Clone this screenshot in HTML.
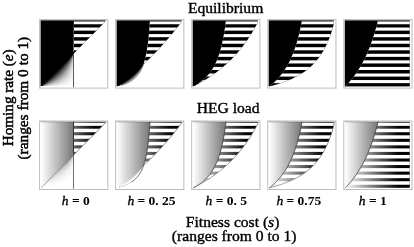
<!DOCTYPE html>
<html><head><meta charset="utf-8"><title>HEG equilibrium and load</title>
<style>html,body{margin:0;padding:0;background:#fff}svg{display:block;filter:blur(0.3px)}body{font-family:"Liberation Serif",serif}</style></head>
<body>
<svg width="414" height="247" viewBox="0 0 414 247">
<rect width="414" height="247" fill="#fff"/>
<defs><clipPath id="csp00"><polygon points="73.95,16.22 74.22,16.22 74.5,16.22 74.77,16.22 75.05,16.22 75.32,16.22 75.59,16.22 75.87,16.22 76.14,16.22 76.41,16.22 76.69,16.22 76.96,16.22 77.24,16.22 77.51,16.22 77.78,16.22 78.06,16.22 78.33,16.22 78.6,16.22 78.88,16.22 79.15,16.22 79.43,16.22 79.7,16.22 79.97,16.22 80.25,16.22 80.52,16.22 80.79,16.22 81.07,16.22 81.34,16.22 81.62,16.22 81.89,16.22 82.16,16.22 82.44,16.22 82.71,16.22 82.98,16.22 83.26,16.22 83.53,16.22 83.81,16.22 84.08,16.22 84.35,16.22 84.63,16.22 84.9,16.22 85.17,16.22 85.45,16.22 85.72,16.22 86,16.22 86.27,16.22 86.54,16.22 86.82,16.22 87.09,16.22 87.36,16.22 87.64,16.22 87.91,16.22 88.19,16.22 88.46,16.22 88.73,16.22 89.01,16.22 89.28,16.22 89.55,16.22 89.83,16.22 90.1,16.22 90.38,16.22 90.65,16.22 90.92,16.22 91.2,16.22 91.47,16.22 91.74,16.22 92.02,16.22 92.29,16.22 92.57,16.22 92.84,16.22 93.11,16.22 93.39,16.22 93.66,16.22 93.93,16.22 94.21,16.22 94.48,16.22 94.76,16.22 95.03,16.22 95.3,16.22 95.58,16.22 95.85,16.22 96.12,16.22 96.4,16.22 96.67,16.22 96.95,16.22 97.22,16.22 97.49,16.22 97.77,16.22 98.04,16.22 98.31,16.22 98.59,16.22 98.86,16.22 99.14,16.22 99.41,16.22 99.68,16.22 99.96,16.22 100.23,16.22 100.5,16.22 100.78,16.22 101.05,16.22 101.33,16.22 101.6,16.22 101.87,16.22 102.15,16.22 102.42,16.22 102.69,16.22 102.97,16.22 103.24,16.22 103.52,16.22 103.79,16.22 104.06,16.22 104.34,16.22 104.61,16.22 104.88,16.22 105.16,16.22 105.43,16.22 105.71,16.22 105.98,16.22 106.25,16.22 106.53,16.22 106.8,16.22 106.8,20.2 106.53,20.48 106.25,20.75 105.98,21.03 105.71,21.3 105.43,21.58 105.16,21.86 104.88,22.13 104.61,22.41 104.34,22.69 104.06,22.96 103.79,23.24 103.52,23.52 103.24,23.79 102.97,24.07 102.69,24.34 102.42,24.62 102.15,24.9 101.87,25.17 101.6,25.45 101.33,25.72 101.05,26 100.78,26.28 100.5,26.55 100.23,26.83 99.96,27.11 99.68,27.38 99.41,27.66 99.14,27.94 98.86,28.21 98.59,28.49 98.31,28.76 98.04,29.04 97.77,29.32 97.49,29.59 97.22,29.87 96.95,30.15 96.67,30.42 96.4,30.7 96.12,30.97 95.85,31.25 95.58,31.53 95.3,31.8 95.03,32.08 94.76,32.36 94.48,32.63 94.21,32.91 93.93,33.18 93.66,33.46 93.39,33.74 93.11,34.01 92.84,34.29 92.57,34.57 92.29,34.84 92.02,35.12 91.74,35.39 91.47,35.67 91.2,35.95 90.92,36.22 90.65,36.5 90.38,36.78 90.1,37.05 89.83,37.33 89.55,37.6 89.28,37.88 89.01,38.16 88.73,38.43 88.46,38.71 88.19,38.98 87.91,39.26 87.64,39.54 87.36,39.81 87.09,40.09 86.82,40.37 86.54,40.64 86.27,40.92 86,41.2 85.72,41.47 85.45,41.75 85.17,42.02 84.9,42.3 84.63,42.58 84.35,42.85 84.08,43.13 83.81,43.41 83.53,43.68 83.26,43.96 82.98,44.23 82.71,44.51 82.44,44.79 82.16,45.06 81.89,45.34 81.62,45.62 81.34,45.89 81.07,46.17 80.79,46.44 80.52,46.72 80.25,47 79.97,47.27 79.7,47.55 79.43,47.82 79.15,48.1 78.88,48.38 78.6,48.65 78.33,48.93 78.06,49.21 77.78,49.48 77.51,49.76 77.24,50.03 76.96,50.31 76.69,50.59 76.41,50.86 76.14,51.14 75.87,51.42 75.59,51.69 75.32,51.97 75.05,52.24 74.77,52.52 74.5,52.8 74.22,53.07 73.95,53.35"/></clipPath><clipPath id="ccp00"><rect x="40.6" y="20.55" width="65" height="65.95"/></clipPath><clipPath id="cpp00"><polygon points="41.1,84.51 41.37,84.23 41.65,83.96 41.92,83.68 42.2,83.41 42.47,83.13 42.74,82.85 43.02,82.58 43.29,82.3 43.56,82.02 43.84,81.75 44.11,81.47 44.39,81.2 44.66,80.92 44.93,80.64 45.21,80.37 45.48,80.09 45.75,79.81 46.03,79.54 46.3,79.26 46.58,78.99 46.85,78.71 47.12,78.43 47.4,78.16 47.67,77.88 47.94,77.6 48.22,77.33 48.49,77.05 48.77,76.78 49.04,76.5 49.31,76.22 49.59,75.95 49.86,75.67 50.13,75.39 50.41,75.12 50.68,74.84 50.96,74.57 51.23,74.29 51.5,74.01 51.78,73.74 52.05,73.46 52.32,73.18 52.6,72.91 52.87,72.63 53.15,72.36 53.42,72.08 53.69,71.8 53.97,71.53 54.24,71.25 54.51,70.97 54.79,70.7 55.06,70.42 55.34,70.15 55.61,69.87 55.88,69.59 56.16,69.32 56.43,69.04 56.7,68.76 56.98,68.49 57.25,68.21 57.53,67.94 57.8,67.66 58.07,67.38 58.35,67.11 58.62,66.83 58.89,66.55 59.17,66.28 59.44,66 59.72,65.73 59.99,65.45 60.26,65.17 60.54,64.9 60.81,64.62 61.08,64.34 61.36,64.07 61.63,63.79 61.91,63.52 62.18,63.24 62.45,62.96 62.73,62.69 63,62.41 63.27,62.13 63.55,61.86 63.82,61.58 64.09,61.31 64.37,61.03 64.64,60.75 64.92,60.48 65.19,60.2 65.46,59.92 65.74,59.65 66.01,59.37 66.29,59.1 66.56,58.82 66.83,58.54 67.11,58.27 67.38,57.99 67.65,57.71 67.93,57.44 68.2,57.16 68.48,56.89 68.75,56.61 69.02,56.33 69.3,56.06 69.57,55.78 69.84,55.5 70.12,55.23 70.39,54.95 70.67,54.68 70.94,54.4 71.21,54.12 71.49,53.85 71.76,53.57 72.03,53.29 72.31,53.02 72.58,52.74 72.86,52.47 73.13,52.19 73.4,51.91 73.68,51.64 73.95,51.36 73.95,90.48 73.68,90.48 73.4,90.48 73.13,90.48 72.86,90.48 72.58,90.48 72.31,90.48 72.03,90.48 71.76,90.48 71.49,90.48 71.21,90.48 70.94,90.48 70.67,90.48 70.39,90.48 70.12,90.48 69.84,90.48 69.57,90.48 69.3,90.48 69.02,90.48 68.75,90.48 68.48,90.48 68.2,90.48 67.93,90.48 67.65,90.48 67.38,90.48 67.11,90.48 66.83,90.48 66.56,90.48 66.29,90.48 66.01,90.48 65.74,90.48 65.46,90.48 65.19,90.48 64.92,90.48 64.64,90.48 64.37,90.48 64.09,90.48 63.82,90.48 63.55,90.48 63.27,90.48 63,90.48 62.73,90.48 62.45,90.48 62.18,90.48 61.91,90.48 61.63,90.48 61.36,90.48 61.08,90.48 60.81,90.48 60.54,90.48 60.26,90.48 59.99,90.48 59.72,90.48 59.44,90.48 59.17,90.48 58.89,90.48 58.62,90.48 58.35,90.48 58.07,90.48 57.8,90.48 57.53,90.48 57.25,90.48 56.98,90.48 56.7,90.48 56.43,90.48 56.16,90.48 55.88,90.48 55.61,90.48 55.34,90.48 55.06,90.48 54.79,90.48 54.51,90.48 54.24,90.48 53.97,90.48 53.69,90.48 53.42,90.48 53.15,90.48 52.87,90.48 52.6,90.48 52.32,90.48 52.05,90.48 51.78,90.48 51.5,90.48 51.23,90.48 50.96,90.48 50.68,90.48 50.41,90.48 50.13,90.48 49.86,90.48 49.59,90.48 49.31,90.48 49.04,90.48 48.77,90.48 48.49,90.48 48.22,90.48 47.94,90.48 47.67,90.48 47.4,90.48 47.12,90.48 46.85,90.48 46.58,90.48 46.3,90.48 46.03,90.48 45.75,90.48 45.48,90.48 45.21,90.48 44.93,90.48 44.66,90.48 44.39,90.48 44.11,90.48 43.84,90.48 43.56,90.48 43.29,90.48 43.02,90.48 42.74,90.48 42.47,90.48 42.2,90.48 41.92,90.48 41.65,90.48 41.37,90.48 41.1,90.48"/></clipPath></defs>
<rect x="39.6" y="19.6" width="68.2" height="68.5" fill="#fff" stroke="#bcbcbc" stroke-width="1"/>
<g clip-path="url(#ccp00)">
<g clip-path="url(#cpp00)" shape-rendering="crispEdges"><rect x="71" y="52" width="4" height="1" fill="#000000"/><rect x="70" y="53" width="4" height="1" fill="#000000"/><rect x="74" y="53" width="1" height="1" fill="#ececec"/><rect x="69" y="54" width="4" height="1" fill="#000000"/><rect x="73" y="54" width="1" height="1" fill="#797979"/><rect x="68" y="55" width="4" height="1" fill="#000000"/><rect x="72" y="55" width="1" height="1" fill="#333333"/><rect x="73" y="55" width="1" height="1" fill="#b9b9b9"/><rect x="67" y="56" width="4" height="1" fill="#000000"/><rect x="71" y="56" width="1" height="1" fill="#1a1a1a"/><rect x="72" y="56" width="1" height="1" fill="#6c6c6c"/><rect x="73" y="56" width="1" height="1" fill="#cccccc"/><rect x="66" y="57" width="4" height="1" fill="#000000"/><rect x="70" y="57" width="1" height="1" fill="#131313"/><rect x="71" y="57" width="1" height="1" fill="#4c4c4c"/><rect x="72" y="57" width="1" height="1" fill="#8c8c8c"/><rect x="73" y="57" width="1" height="1" fill="#d9d9d9"/><rect x="65" y="58" width="4" height="1" fill="#000000"/><rect x="69" y="58" width="1" height="1" fill="#0d0d0d"/><rect x="70" y="58" width="1" height="1" fill="#393939"/><rect x="71" y="58" width="1" height="1" fill="#6c6c6c"/><rect x="72" y="58" width="1" height="1" fill="#a6a6a6"/><rect x="73" y="58" width="1" height="1" fill="#e6e6e6"/><rect x="64" y="59" width="4" height="1" fill="#000000"/><rect x="68" y="59" width="1" height="1" fill="#0d0d0d"/><rect x="69" y="59" width="1" height="1" fill="#2d2d2d"/><rect x="70" y="59" width="1" height="1" fill="#595959"/><rect x="71" y="59" width="1" height="1" fill="#868686"/><rect x="72" y="59" width="1" height="1" fill="#b2b2b2"/><rect x="73" y="59" width="1" height="1" fill="#e6e6e6"/><rect x="63" y="60" width="4" height="1" fill="#000000"/><rect x="67" y="60" width="1" height="1" fill="#060606"/><rect x="68" y="60" width="1" height="1" fill="#262626"/><rect x="69" y="60" width="1" height="1" fill="#464646"/><rect x="70" y="60" width="1" height="1" fill="#6c6c6c"/><rect x="71" y="60" width="1" height="1" fill="#999999"/><rect x="72" y="60" width="1" height="1" fill="#bfbfbf"/><rect x="73" y="60" width="1" height="1" fill="#ececec"/><rect x="62" y="61" width="4" height="1" fill="#000000"/><rect x="66" y="61" width="1" height="1" fill="#060606"/><rect x="67" y="61" width="1" height="1" fill="#202020"/><rect x="68" y="61" width="1" height="1" fill="#404040"/><rect x="69" y="61" width="1" height="1" fill="#606060"/><rect x="70" y="61" width="1" height="1" fill="#808080"/><rect x="71" y="61" width="1" height="1" fill="#a6a6a6"/><rect x="72" y="61" width="1" height="1" fill="#cccccc"/><rect x="73" y="61" width="1" height="1" fill="#ececec"/><rect x="61" y="62" width="4" height="1" fill="#000000"/><rect x="65" y="62" width="1" height="1" fill="#060606"/><rect x="66" y="62" width="1" height="1" fill="#1a1a1a"/><rect x="67" y="62" width="1" height="1" fill="#393939"/><rect x="68" y="62" width="1" height="1" fill="#535353"/><rect x="69" y="62" width="1" height="1" fill="#737373"/><rect x="70" y="62" width="1" height="1" fill="#939393"/><rect x="71" y="62" width="1" height="1" fill="#b2b2b2"/><rect x="72" y="62" width="1" height="1" fill="#d2d2d2"/><rect x="73" y="62" width="1" height="1" fill="#f2f2f2"/><rect x="60" y="63" width="4" height="1" fill="#000000"/><rect x="64" y="63" width="1" height="1" fill="#060606"/><rect x="65" y="63" width="1" height="1" fill="#1a1a1a"/><rect x="66" y="63" width="1" height="1" fill="#333333"/><rect x="67" y="63" width="1" height="1" fill="#4c4c4c"/><rect x="68" y="63" width="1" height="1" fill="#666666"/><rect x="69" y="63" width="1" height="1" fill="#868686"/><rect x="70" y="63" width="1" height="1" fill="#9f9f9f"/><rect x="71" y="63" width="1" height="1" fill="#bfbfbf"/><rect x="72" y="63" width="1" height="1" fill="#d9d9d9"/><rect x="73" y="63" width="1" height="1" fill="#f2f2f2"/><rect x="59" y="64" width="4" height="1" fill="#000000"/><rect x="63" y="64" width="1" height="1" fill="#060606"/><rect x="64" y="64" width="1" height="1" fill="#1a1a1a"/><rect x="65" y="64" width="1" height="1" fill="#2d2d2d"/><rect x="66" y="64" width="1" height="1" fill="#464646"/><rect x="67" y="64" width="1" height="1" fill="#606060"/><rect x="68" y="64" width="1" height="1" fill="#797979"/><rect x="69" y="64" width="1" height="1" fill="#939393"/><rect x="70" y="64" width="1" height="1" fill="#acacac"/><rect x="71" y="64" width="1" height="1" fill="#c6c6c6"/><rect x="72" y="64" width="1" height="1" fill="#dfdfdf"/><rect x="73" y="64" width="1" height="1" fill="#f2f2f2"/><rect x="58" y="65" width="4" height="1" fill="#000000"/><rect x="62" y="65" width="1" height="1" fill="#060606"/><rect x="63" y="65" width="1" height="1" fill="#131313"/><rect x="64" y="65" width="1" height="1" fill="#2d2d2d"/><rect x="65" y="65" width="1" height="1" fill="#404040"/><rect x="66" y="65" width="1" height="1" fill="#595959"/><rect x="67" y="65" width="1" height="1" fill="#737373"/><rect x="68" y="65" width="1" height="1" fill="#868686"/><rect x="69" y="65" width="1" height="1" fill="#9f9f9f"/><rect x="70" y="65" width="1" height="1" fill="#b2b2b2"/><rect x="71" y="65" width="1" height="1" fill="#cccccc"/><rect x="72" y="65" width="1" height="1" fill="#dfdfdf"/><rect x="73" y="65" width="1" height="1" fill="#f9f9f9"/><rect x="57" y="66" width="4" height="1" fill="#000000"/><rect x="61" y="66" width="1" height="1" fill="#060606"/><rect x="62" y="66" width="1" height="1" fill="#131313"/><rect x="63" y="66" width="1" height="1" fill="#262626"/><rect x="64" y="66" width="1" height="1" fill="#404040"/><rect x="65" y="66" width="1" height="1" fill="#535353"/><rect x="66" y="66" width="1" height="1" fill="#666666"/><rect x="67" y="66" width="1" height="1" fill="#808080"/><rect x="68" y="66" width="1" height="1" fill="#939393"/><rect x="69" y="66" width="1" height="1" fill="#acacac"/><rect x="70" y="66" width="1" height="1" fill="#bfbfbf"/><rect x="71" y="66" width="1" height="1" fill="#d2d2d2"/><rect x="72" y="66" width="1" height="1" fill="#e6e6e6"/><rect x="73" y="66" width="1" height="1" fill="#f9f9f9"/><rect x="56" y="67" width="4" height="1" fill="#000000"/><rect x="60" y="67" width="1" height="1" fill="#060606"/><rect x="61" y="67" width="1" height="1" fill="#131313"/><rect x="62" y="67" width="1" height="1" fill="#262626"/><rect x="63" y="67" width="1" height="1" fill="#393939"/><rect x="64" y="67" width="1" height="1" fill="#4c4c4c"/><rect x="65" y="67" width="1" height="1" fill="#666666"/><rect x="66" y="67" width="1" height="1" fill="#797979"/><rect x="67" y="67" width="1" height="1" fill="#8c8c8c"/><rect x="68" y="67" width="1" height="1" fill="#9f9f9f"/><rect x="69" y="67" width="1" height="1" fill="#b2b2b2"/><rect x="70" y="67" width="1" height="1" fill="#c6c6c6"/><rect x="71" y="67" width="1" height="1" fill="#d9d9d9"/><rect x="72" y="67" width="1" height="1" fill="#e6e6e6"/><rect x="73" y="67" width="1" height="1" fill="#f9f9f9"/><rect x="55" y="68" width="4" height="1" fill="#000000"/><rect x="59" y="68" width="1" height="1" fill="#060606"/><rect x="60" y="68" width="1" height="1" fill="#131313"/><rect x="61" y="68" width="1" height="1" fill="#262626"/><rect x="62" y="68" width="1" height="1" fill="#393939"/><rect x="63" y="68" width="1" height="1" fill="#4c4c4c"/><rect x="64" y="68" width="1" height="1" fill="#606060"/><rect x="65" y="68" width="1" height="1" fill="#737373"/><rect x="66" y="68" width="1" height="1" fill="#868686"/><rect x="67" y="68" width="1" height="1" fill="#999999"/><rect x="68" y="68" width="1" height="1" fill="#acacac"/><rect x="69" y="68" width="1" height="1" fill="#b9b9b9"/><rect x="70" y="68" width="1" height="1" fill="#cccccc"/><rect x="71" y="68" width="1" height="1" fill="#d9d9d9"/><rect x="72" y="68" width="1" height="1" fill="#ececec"/><rect x="73" y="68" width="1" height="1" fill="#f9f9f9"/><rect x="54" y="69" width="4" height="1" fill="#000000"/><rect x="58" y="69" width="1" height="1" fill="#060606"/><rect x="59" y="69" width="1" height="1" fill="#131313"/><rect x="60" y="69" width="1" height="1" fill="#262626"/><rect x="61" y="69" width="1" height="1" fill="#393939"/><rect x="62" y="69" width="1" height="1" fill="#4c4c4c"/><rect x="63" y="69" width="1" height="1" fill="#606060"/><rect x="64" y="69" width="1" height="1" fill="#6c6c6c"/><rect x="65" y="69" width="1" height="1" fill="#808080"/><rect x="66" y="69" width="1" height="1" fill="#939393"/><rect x="67" y="69" width="1" height="1" fill="#a6a6a6"/><rect x="68" y="69" width="1" height="1" fill="#b2b2b2"/><rect x="69" y="69" width="1" height="1" fill="#c6c6c6"/><rect x="70" y="69" width="1" height="1" fill="#d2d2d2"/><rect x="71" y="69" width="1" height="1" fill="#dfdfdf"/><rect x="72" y="69" width="1" height="1" fill="#ececec"/><rect x="73" y="69" width="1" height="1" fill="#f9f9f9"/><rect x="53" y="70" width="4" height="1" fill="#000000"/><rect x="57" y="70" width="1" height="1" fill="#060606"/><rect x="58" y="70" width="1" height="1" fill="#131313"/><rect x="59" y="70" width="1" height="1" fill="#262626"/><rect x="60" y="70" width="1" height="1" fill="#333333"/><rect x="61" y="70" width="1" height="1" fill="#464646"/><rect x="62" y="70" width="1" height="1" fill="#595959"/><rect x="63" y="70" width="1" height="1" fill="#6c6c6c"/><rect x="64" y="70" width="1" height="1" fill="#808080"/><rect x="65" y="70" width="1" height="1" fill="#8c8c8c"/><rect x="66" y="70" width="1" height="1" fill="#9f9f9f"/><rect x="67" y="70" width="1" height="1" fill="#acacac"/><rect x="68" y="70" width="1" height="1" fill="#b9b9b9"/><rect x="69" y="70" width="1" height="1" fill="#cccccc"/><rect x="70" y="70" width="1" height="1" fill="#d9d9d9"/><rect x="71" y="70" width="1" height="1" fill="#e6e6e6"/><rect x="72" y="70" width="1" height="1" fill="#ececec"/><rect x="73" y="70" width="1" height="1" fill="#f9f9f9"/><rect x="52" y="71" width="4" height="1" fill="#000000"/><rect x="56" y="71" width="1" height="1" fill="#060606"/><rect x="57" y="71" width="1" height="1" fill="#131313"/><rect x="58" y="71" width="1" height="1" fill="#202020"/><rect x="59" y="71" width="1" height="1" fill="#333333"/><rect x="60" y="71" width="1" height="1" fill="#464646"/><rect x="61" y="71" width="1" height="1" fill="#595959"/><rect x="62" y="71" width="1" height="1" fill="#6c6c6c"/><rect x="63" y="71" width="1" height="1" fill="#797979"/><rect x="64" y="71" width="1" height="1" fill="#8c8c8c"/><rect x="65" y="71" width="1" height="1" fill="#999999"/><rect x="66" y="71" width="1" height="1" fill="#a6a6a6"/><rect x="67" y="71" width="1" height="1" fill="#b9b9b9"/><rect x="68" y="71" width="1" height="1" fill="#c6c6c6"/><rect x="69" y="71" width="1" height="1" fill="#cccccc"/><rect x="70" y="71" width="1" height="1" fill="#d9d9d9"/><rect x="71" y="71" width="1" height="1" fill="#e6e6e6"/><rect x="72" y="71" width="1" height="1" fill="#f2f2f2"/><rect x="73" y="71" width="1" height="1" fill="#f9f9f9"/><rect x="51" y="72" width="4" height="1" fill="#000000"/><rect x="55" y="72" width="1" height="1" fill="#060606"/><rect x="56" y="72" width="1" height="1" fill="#131313"/><rect x="57" y="72" width="1" height="1" fill="#262626"/><rect x="58" y="72" width="1" height="1" fill="#333333"/><rect x="59" y="72" width="1" height="1" fill="#464646"/><rect x="60" y="72" width="1" height="1" fill="#595959"/><rect x="61" y="72" width="1" height="1" fill="#666666"/><rect x="62" y="72" width="1" height="1" fill="#797979"/><rect x="63" y="72" width="1" height="1" fill="#868686"/><rect x="64" y="72" width="1" height="1" fill="#999999"/><rect x="65" y="72" width="1" height="1" fill="#a6a6a6"/><rect x="66" y="72" width="1" height="1" fill="#b2b2b2"/><rect x="67" y="72" width="1" height="1" fill="#bfbfbf"/><rect x="68" y="72" width="1" height="1" fill="#cccccc"/><rect x="69" y="72" width="1" height="1" fill="#d2d2d2"/><rect x="70" y="72" width="1" height="1" fill="#dfdfdf"/><rect x="71" y="72" width="1" height="1" fill="#ececec"/><rect x="72" y="72" width="1" height="1" fill="#f2f2f2"/><rect x="73" y="72" width="1" height="1" fill="#f9f9f9"/><rect x="50" y="73" width="4" height="1" fill="#000000"/><rect x="54" y="73" width="1" height="1" fill="#060606"/><rect x="55" y="73" width="1" height="1" fill="#131313"/><rect x="56" y="73" width="1" height="1" fill="#262626"/><rect x="57" y="73" width="1" height="1" fill="#333333"/><rect x="58" y="73" width="1" height="1" fill="#464646"/><rect x="59" y="73" width="1" height="1" fill="#595959"/><rect x="60" y="73" width="1" height="1" fill="#666666"/><rect x="61" y="73" width="1" height="1" fill="#797979"/><rect x="62" y="73" width="1" height="1" fill="#868686"/><rect x="63" y="73" width="1" height="1" fill="#939393"/><rect x="64" y="73" width="1" height="1" fill="#9f9f9f"/><rect x="65" y="73" width="1" height="1" fill="#acacac"/><rect x="66" y="73" width="1" height="1" fill="#b9b9b9"/><rect x="67" y="73" width="1" height="1" fill="#c6c6c6"/><rect x="68" y="73" width="1" height="1" fill="#d2d2d2"/><rect x="69" y="73" width="1" height="1" fill="#d9d9d9"/><rect x="70" y="73" width="1" height="1" fill="#e6e6e6"/><rect x="71" y="73" width="1" height="1" fill="#ececec"/><rect x="72" y="73" width="1" height="1" fill="#f2f2f2"/><rect x="73" y="73" width="1" height="1" fill="#f9f9f9"/><rect x="49" y="74" width="4" height="1" fill="#000000"/><rect x="53" y="74" width="1" height="1" fill="#060606"/><rect x="54" y="74" width="1" height="1" fill="#131313"/><rect x="55" y="74" width="1" height="1" fill="#262626"/><rect x="56" y="74" width="1" height="1" fill="#393939"/><rect x="57" y="74" width="1" height="1" fill="#464646"/><rect x="58" y="74" width="1" height="1" fill="#595959"/><rect x="59" y="74" width="1" height="1" fill="#6c6c6c"/><rect x="60" y="74" width="1" height="1" fill="#797979"/><rect x="61" y="74" width="1" height="1" fill="#868686"/><rect x="62" y="74" width="1" height="1" fill="#939393"/><rect x="63" y="74" width="1" height="1" fill="#9f9f9f"/><rect x="64" y="74" width="1" height="1" fill="#acacac"/><rect x="65" y="74" width="1" height="1" fill="#b9b9b9"/><rect x="66" y="74" width="1" height="1" fill="#bfbfbf"/><rect x="67" y="74" width="1" height="1" fill="#cccccc"/><rect x="68" y="74" width="1" height="1" fill="#d2d2d2"/><rect x="69" y="74" width="1" height="1" fill="#dfdfdf"/><rect x="70" y="74" width="1" height="1" fill="#e6e6e6"/><rect x="71" y="74" width="1" height="1" fill="#ececec"/><rect x="72" y="74" width="1" height="1" fill="#f2f2f2"/><rect x="48" y="75" width="4" height="1" fill="#000000"/><rect x="52" y="75" width="1" height="1" fill="#060606"/><rect x="53" y="75" width="1" height="1" fill="#131313"/><rect x="54" y="75" width="1" height="1" fill="#262626"/><rect x="55" y="75" width="1" height="1" fill="#393939"/><rect x="56" y="75" width="1" height="1" fill="#4c4c4c"/><rect x="57" y="75" width="1" height="1" fill="#595959"/><rect x="58" y="75" width="1" height="1" fill="#6c6c6c"/><rect x="59" y="75" width="1" height="1" fill="#797979"/><rect x="60" y="75" width="1" height="1" fill="#868686"/><rect x="61" y="75" width="1" height="1" fill="#939393"/><rect x="62" y="75" width="1" height="1" fill="#9f9f9f"/><rect x="63" y="75" width="1" height="1" fill="#acacac"/><rect x="64" y="75" width="1" height="1" fill="#b9b9b9"/><rect x="65" y="75" width="1" height="1" fill="#bfbfbf"/><rect x="66" y="75" width="1" height="1" fill="#cccccc"/><rect x="67" y="75" width="1" height="1" fill="#d2d2d2"/><rect x="68" y="75" width="1" height="1" fill="#d9d9d9"/><rect x="69" y="75" width="1" height="1" fill="#dfdfdf"/><rect x="70" y="75" width="1" height="1" fill="#ececec"/><rect x="71" y="75" width="1" height="1" fill="#f2f2f2"/><rect x="72" y="75" width="1" height="1" fill="#f9f9f9"/><rect x="47" y="76" width="4" height="1" fill="#000000"/><rect x="51" y="76" width="1" height="1" fill="#060606"/><rect x="52" y="76" width="1" height="1" fill="#131313"/><rect x="53" y="76" width="1" height="1" fill="#262626"/><rect x="54" y="76" width="1" height="1" fill="#393939"/><rect x="55" y="76" width="1" height="1" fill="#4c4c4c"/><rect x="56" y="76" width="1" height="1" fill="#606060"/><rect x="57" y="76" width="1" height="1" fill="#6c6c6c"/><rect x="58" y="76" width="1" height="1" fill="#797979"/><rect x="59" y="76" width="1" height="1" fill="#868686"/><rect x="60" y="76" width="1" height="1" fill="#939393"/><rect x="61" y="76" width="1" height="1" fill="#9f9f9f"/><rect x="62" y="76" width="1" height="1" fill="#acacac"/><rect x="63" y="76" width="1" height="1" fill="#b9b9b9"/><rect x="64" y="76" width="1" height="1" fill="#bfbfbf"/><rect x="65" y="76" width="1" height="1" fill="#c6c6c6"/><rect x="66" y="76" width="1" height="1" fill="#d2d2d2"/><rect x="67" y="76" width="1" height="1" fill="#d9d9d9"/><rect x="68" y="76" width="1" height="1" fill="#dfdfdf"/><rect x="69" y="76" width="1" height="1" fill="#e6e6e6"/><rect x="70" y="76" width="1" height="1" fill="#ececec"/><rect x="71" y="76" width="1" height="1" fill="#f2f2f2"/><rect x="72" y="76" width="1" height="1" fill="#f9f9f9"/><rect x="46" y="77" width="4" height="1" fill="#000000"/><rect x="50" y="77" width="1" height="1" fill="#060606"/><rect x="51" y="77" width="1" height="1" fill="#131313"/><rect x="52" y="77" width="1" height="1" fill="#2d2d2d"/><rect x="53" y="77" width="1" height="1" fill="#404040"/><rect x="54" y="77" width="1" height="1" fill="#4c4c4c"/><rect x="55" y="77" width="1" height="1" fill="#606060"/><rect x="56" y="77" width="1" height="1" fill="#737373"/><rect x="57" y="77" width="1" height="1" fill="#808080"/><rect x="58" y="77" width="1" height="1" fill="#8c8c8c"/><rect x="59" y="77" width="1" height="1" fill="#999999"/><rect x="60" y="77" width="1" height="1" fill="#a6a6a6"/><rect x="61" y="77" width="1" height="1" fill="#acacac"/><rect x="62" y="77" width="1" height="1" fill="#b9b9b9"/><rect x="63" y="77" width="1" height="1" fill="#bfbfbf"/><rect x="64" y="77" width="1" height="1" fill="#c6c6c6"/><rect x="65" y="77" width="1" height="1" fill="#d2d2d2"/><rect x="66" y="77" width="1" height="1" fill="#d9d9d9"/><rect x="67" y="77" width="1" height="1" fill="#dfdfdf"/><rect x="68" y="77" width="1" height="1" fill="#e6e6e6"/><rect x="69" y="77" width="2" height="1" fill="#ececec"/><rect x="71" y="77" width="1" height="1" fill="#f2f2f2"/><rect x="72" y="77" width="1" height="1" fill="#f9f9f9"/><rect x="45" y="78" width="4" height="1" fill="#000000"/><rect x="49" y="78" width="1" height="1" fill="#060606"/><rect x="50" y="78" width="1" height="1" fill="#1a1a1a"/><rect x="51" y="78" width="1" height="1" fill="#2d2d2d"/><rect x="52" y="78" width="1" height="1" fill="#404040"/><rect x="53" y="78" width="1" height="1" fill="#535353"/><rect x="54" y="78" width="1" height="1" fill="#666666"/><rect x="55" y="78" width="1" height="1" fill="#737373"/><rect x="56" y="78" width="1" height="1" fill="#808080"/><rect x="57" y="78" width="1" height="1" fill="#8c8c8c"/><rect x="58" y="78" width="1" height="1" fill="#999999"/><rect x="59" y="78" width="1" height="1" fill="#a6a6a6"/><rect x="60" y="78" width="1" height="1" fill="#b2b2b2"/><rect x="61" y="78" width="1" height="1" fill="#b9b9b9"/><rect x="62" y="78" width="1" height="1" fill="#bfbfbf"/><rect x="63" y="78" width="1" height="1" fill="#c6c6c6"/><rect x="64" y="78" width="1" height="1" fill="#d2d2d2"/><rect x="65" y="78" width="1" height="1" fill="#d9d9d9"/><rect x="66" y="78" width="2" height="1" fill="#dfdfdf"/><rect x="68" y="78" width="1" height="1" fill="#e6e6e6"/><rect x="69" y="78" width="1" height="1" fill="#ececec"/><rect x="70" y="78" width="2" height="1" fill="#f2f2f2"/><rect x="72" y="78" width="1" height="1" fill="#f9f9f9"/><rect x="44" y="79" width="4" height="1" fill="#000000"/><rect x="48" y="79" width="1" height="1" fill="#060606"/><rect x="49" y="79" width="1" height="1" fill="#1a1a1a"/><rect x="50" y="79" width="1" height="1" fill="#333333"/><rect x="51" y="79" width="1" height="1" fill="#464646"/><rect x="52" y="79" width="1" height="1" fill="#595959"/><rect x="53" y="79" width="1" height="1" fill="#6c6c6c"/><rect x="54" y="79" width="1" height="1" fill="#797979"/><rect x="55" y="79" width="1" height="1" fill="#868686"/><rect x="56" y="79" width="1" height="1" fill="#939393"/><rect x="57" y="79" width="1" height="1" fill="#9f9f9f"/><rect x="58" y="79" width="1" height="1" fill="#acacac"/><rect x="59" y="79" width="1" height="1" fill="#b2b2b2"/><rect x="60" y="79" width="1" height="1" fill="#b9b9b9"/><rect x="61" y="79" width="1" height="1" fill="#c6c6c6"/><rect x="62" y="79" width="1" height="1" fill="#cccccc"/><rect x="63" y="79" width="1" height="1" fill="#d2d2d2"/><rect x="64" y="79" width="1" height="1" fill="#d9d9d9"/><rect x="65" y="79" width="2" height="1" fill="#dfdfdf"/><rect x="67" y="79" width="1" height="1" fill="#e6e6e6"/><rect x="68" y="79" width="1" height="1" fill="#ececec"/><rect x="69" y="79" width="2" height="1" fill="#f2f2f2"/><rect x="71" y="79" width="2" height="1" fill="#f9f9f9"/><rect x="43" y="80" width="4" height="1" fill="#000000"/><rect x="47" y="80" width="1" height="1" fill="#060606"/><rect x="48" y="80" width="1" height="1" fill="#202020"/><rect x="49" y="80" width="1" height="1" fill="#393939"/><rect x="50" y="80" width="1" height="1" fill="#4c4c4c"/><rect x="51" y="80" width="1" height="1" fill="#606060"/><rect x="52" y="80" width="1" height="1" fill="#737373"/><rect x="53" y="80" width="1" height="1" fill="#808080"/><rect x="54" y="80" width="1" height="1" fill="#8c8c8c"/><rect x="55" y="80" width="1" height="1" fill="#999999"/><rect x="56" y="80" width="1" height="1" fill="#a6a6a6"/><rect x="57" y="80" width="1" height="1" fill="#acacac"/><rect x="58" y="80" width="1" height="1" fill="#b9b9b9"/><rect x="59" y="80" width="1" height="1" fill="#bfbfbf"/><rect x="60" y="80" width="1" height="1" fill="#c6c6c6"/><rect x="61" y="80" width="1" height="1" fill="#cccccc"/><rect x="62" y="80" width="1" height="1" fill="#d2d2d2"/><rect x="63" y="80" width="1" height="1" fill="#d9d9d9"/><rect x="64" y="80" width="2" height="1" fill="#dfdfdf"/><rect x="66" y="80" width="1" height="1" fill="#e6e6e6"/><rect x="67" y="80" width="2" height="1" fill="#ececec"/><rect x="69" y="80" width="2" height="1" fill="#f2f2f2"/><rect x="71" y="80" width="2" height="1" fill="#f9f9f9"/><rect x="42" y="81" width="4" height="1" fill="#000000"/><rect x="46" y="81" width="1" height="1" fill="#060606"/><rect x="47" y="81" width="1" height="1" fill="#202020"/><rect x="48" y="81" width="1" height="1" fill="#404040"/><rect x="49" y="81" width="1" height="1" fill="#535353"/><rect x="50" y="81" width="1" height="1" fill="#6c6c6c"/><rect x="51" y="81" width="1" height="1" fill="#797979"/><rect x="52" y="81" width="1" height="1" fill="#8c8c8c"/><rect x="53" y="81" width="1" height="1" fill="#999999"/><rect x="54" y="81" width="1" height="1" fill="#a6a6a6"/><rect x="55" y="81" width="1" height="1" fill="#acacac"/><rect x="56" y="81" width="1" height="1" fill="#b9b9b9"/><rect x="57" y="81" width="1" height="1" fill="#bfbfbf"/><rect x="58" y="81" width="1" height="1" fill="#c6c6c6"/><rect x="59" y="81" width="1" height="1" fill="#cccccc"/><rect x="60" y="81" width="1" height="1" fill="#d2d2d2"/><rect x="61" y="81" width="2" height="1" fill="#d9d9d9"/><rect x="63" y="81" width="1" height="1" fill="#dfdfdf"/><rect x="64" y="81" width="2" height="1" fill="#e6e6e6"/><rect x="66" y="81" width="2" height="1" fill="#ececec"/><rect x="68" y="81" width="2" height="1" fill="#f2f2f2"/><rect x="70" y="81" width="2" height="1" fill="#f9f9f9"/><rect x="41" y="82" width="4" height="1" fill="#000000"/><rect x="45" y="82" width="1" height="1" fill="#0d0d0d"/><rect x="46" y="82" width="1" height="1" fill="#2d2d2d"/><rect x="47" y="82" width="1" height="1" fill="#464646"/><rect x="48" y="82" width="1" height="1" fill="#606060"/><rect x="49" y="82" width="1" height="1" fill="#797979"/><rect x="50" y="82" width="1" height="1" fill="#868686"/><rect x="51" y="82" width="1" height="1" fill="#999999"/><rect x="52" y="82" width="1" height="1" fill="#a6a6a6"/><rect x="53" y="82" width="1" height="1" fill="#acacac"/><rect x="54" y="82" width="1" height="1" fill="#b9b9b9"/><rect x="55" y="82" width="1" height="1" fill="#bfbfbf"/><rect x="56" y="82" width="1" height="1" fill="#c6c6c6"/><rect x="57" y="82" width="1" height="1" fill="#cccccc"/><rect x="58" y="82" width="1" height="1" fill="#d2d2d2"/><rect x="59" y="82" width="2" height="1" fill="#d9d9d9"/><rect x="61" y="82" width="1" height="1" fill="#dfdfdf"/><rect x="62" y="82" width="2" height="1" fill="#e6e6e6"/><rect x="64" y="82" width="2" height="1" fill="#ececec"/><rect x="66" y="82" width="3" height="1" fill="#f2f2f2"/><rect x="69" y="82" width="3" height="1" fill="#f9f9f9"/><rect x="41" y="83" width="3" height="1" fill="#000000"/><rect x="44" y="83" width="1" height="1" fill="#0d0d0d"/><rect x="45" y="83" width="1" height="1" fill="#393939"/><rect x="46" y="83" width="1" height="1" fill="#595959"/><rect x="47" y="83" width="1" height="1" fill="#737373"/><rect x="48" y="83" width="1" height="1" fill="#868686"/><rect x="49" y="83" width="1" height="1" fill="#999999"/><rect x="50" y="83" width="1" height="1" fill="#a6a6a6"/><rect x="51" y="83" width="1" height="1" fill="#b2b2b2"/><rect x="52" y="83" width="1" height="1" fill="#b9b9b9"/><rect x="53" y="83" width="1" height="1" fill="#c6c6c6"/><rect x="54" y="83" width="1" height="1" fill="#cccccc"/><rect x="55" y="83" width="2" height="1" fill="#d2d2d2"/><rect x="57" y="83" width="1" height="1" fill="#d9d9d9"/><rect x="58" y="83" width="2" height="1" fill="#dfdfdf"/><rect x="60" y="83" width="2" height="1" fill="#e6e6e6"/><rect x="62" y="83" width="2" height="1" fill="#ececec"/><rect x="64" y="83" width="3" height="1" fill="#f2f2f2"/><rect x="67" y="83" width="4" height="1" fill="#f9f9f9"/><rect x="41" y="84" width="2" height="1" fill="#000000"/><rect x="43" y="84" width="1" height="1" fill="#131313"/><rect x="44" y="84" width="1" height="1" fill="#4c4c4c"/><rect x="45" y="84" width="1" height="1" fill="#737373"/><rect x="46" y="84" width="1" height="1" fill="#8c8c8c"/><rect x="47" y="84" width="1" height="1" fill="#9f9f9f"/><rect x="48" y="84" width="1" height="1" fill="#b2b2b2"/><rect x="49" y="84" width="1" height="1" fill="#b9b9b9"/><rect x="50" y="84" width="1" height="1" fill="#c6c6c6"/><rect x="51" y="84" width="1" height="1" fill="#cccccc"/><rect x="52" y="84" width="1" height="1" fill="#d2d2d2"/><rect x="53" y="84" width="1" height="1" fill="#d9d9d9"/><rect x="54" y="84" width="2" height="1" fill="#dfdfdf"/><rect x="56" y="84" width="2" height="1" fill="#e6e6e6"/><rect x="58" y="84" width="3" height="1" fill="#ececec"/><rect x="61" y="84" width="4" height="1" fill="#f2f2f2"/><rect x="65" y="84" width="5" height="1" fill="#f9f9f9"/><rect x="41" y="85" width="1" height="1" fill="#000000"/><rect x="42" y="85" width="1" height="1" fill="#2d2d2d"/><rect x="43" y="85" width="1" height="1" fill="#797979"/><rect x="44" y="85" width="1" height="1" fill="#9f9f9f"/><rect x="45" y="85" width="1" height="1" fill="#b9b9b9"/><rect x="46" y="85" width="1" height="1" fill="#c6c6c6"/><rect x="47" y="85" width="1" height="1" fill="#d2d2d2"/><rect x="48" y="85" width="1" height="1" fill="#d9d9d9"/><rect x="49" y="85" width="2" height="1" fill="#dfdfdf"/><rect x="51" y="85" width="1" height="1" fill="#e6e6e6"/><rect x="52" y="85" width="3" height="1" fill="#ececec"/><rect x="55" y="85" width="4" height="1" fill="#f2f2f2"/><rect x="59" y="85" width="8" height="1" fill="#f9f9f9"/></g>
<polygon points="39.1,16.22 39.1,90.48 41.1,90.48 41.1,86.5 41.51,86.09 41.92,85.67 42.33,85.26 42.74,84.84 43.15,84.43 43.56,84.01 43.97,83.6 44.39,83.19 44.8,82.77 45.21,82.36 45.62,81.94 46.03,81.53 46.44,81.11 46.85,80.7 47.26,80.28 47.67,79.87 48.08,79.46 48.49,79.04 48.9,78.63 49.31,78.21 49.72,77.8 50.13,77.38 50.54,76.97 50.96,76.56 51.37,76.14 51.78,75.73 52.19,75.31 52.6,74.9 53.01,74.48 53.42,74.07 53.83,73.65 54.24,73.24 54.65,72.83 55.06,72.41 55.47,72 55.88,71.58 56.29,71.17 56.7,70.75 57.11,70.34 57.53,69.92 57.94,69.51 58.35,69.1 58.76,68.68 59.17,68.27 59.58,67.85 59.99,67.44 60.4,67.02 60.81,66.61 61.22,66.2 61.63,65.78 62.04,65.37 62.45,64.95 62.86,64.54 63.27,64.12 63.68,63.71 64.09,63.3 64.51,62.88 64.92,62.47 65.33,62.05 65.74,61.64 66.15,61.22 66.56,60.81 66.97,60.39 67.38,59.98 67.79,59.57 68.2,59.15 68.61,58.74 69.02,58.32 69.43,57.91 69.84,57.49 70.25,57.08 70.67,56.66 71.08,56.25 71.49,55.84 71.9,55.42 72.31,55.01 72.72,54.59 73.13,54.18 73.54,53.76 73.95,16.22" fill="#000"/>
<g clip-path="url(#csp00)"><rect x="39.1" y="17.2" width="69.7" height="72.3" fill="#000"/><rect x="40.1" y="21.45" width="67.7" height="2.8" fill="#fff"/><rect x="40.1" y="27.52" width="67.7" height="3.1" fill="#fff"/><rect x="40.1" y="34.08" width="67.7" height="3.1" fill="#fff"/><rect x="40.1" y="40.65" width="67.7" height="3.1" fill="#fff"/><rect x="40.1" y="47.21" width="67.7" height="3.1" fill="#fff"/><rect x="40.1" y="53.78" width="67.7" height="3.1" fill="#fff"/><rect x="40.1" y="60.35" width="67.7" height="3.1" fill="#fff"/><rect x="40.1" y="66.91" width="67.7" height="3.1" fill="#fff"/><rect x="40.1" y="73.48" width="67.7" height="3.1" fill="#fff"/><rect x="40.1" y="80.04" width="67.7" height="3.1" fill="#fff"/><rect x="40.1" y="86.61" width="67.7" height="3.1" fill="#fff"/></g>
</g>
<line x1="40.6" y1="20.5" x2="105.6" y2="20.5" stroke="#000" stroke-opacity="0.3" stroke-width="0.8"/>
<line x1="73.5" y1="53.85" x2="73.5" y2="87.3" stroke="#5a5a5a" stroke-width="1"/>
<defs><clipPath id="csp01"><polygon points="143.43,64.4 143.76,63.45 144.09,62.44 144.42,61.37 144.74,60.23 145.07,59.01 145.4,57.7 145.73,56.3 146.06,54.79 146.39,53.16 146.72,51.4 147.04,49.49 147.37,47.4 147.7,45.12 148.03,42.61 148.36,39.84 148.69,36.77 149.01,33.35 149.34,29.51 149.67,25.16 150,20.2 150.33,16.22 150.66,16.22 150.99,16.22 151.31,16.22 151.64,16.22 151.97,16.22 152.3,16.22 152.63,16.22 152.96,16.22 153.29,16.22 153.61,16.22 153.94,16.22 154.27,16.22 154.6,16.22 154.93,16.22 155.26,16.22 155.58,16.22 155.91,16.22 156.24,16.22 156.57,16.22 156.9,16.22 157.23,16.22 157.56,16.22 157.88,16.22 158.21,16.22 158.54,16.22 158.87,16.22 159.2,16.22 159.53,16.22 159.86,16.22 160.18,16.22 160.51,16.22 160.84,16.22 161.17,16.22 161.5,16.22 161.83,16.22 162.15,16.22 162.48,16.22 162.81,16.22 163.14,16.22 163.47,16.22 163.8,16.22 164.13,16.22 164.45,16.22 164.78,16.22 165.11,16.22 165.44,16.22 165.77,16.22 166.1,16.22 166.43,16.22 166.75,16.22 167.08,16.22 167.41,16.22 167.74,16.22 168.07,16.22 168.4,16.22 168.72,16.22 169.05,16.22 169.38,16.22 169.71,16.22 170.04,16.22 170.37,16.22 170.7,16.22 171.02,16.22 171.35,16.22 171.68,16.22 172.01,16.22 172.34,16.22 172.67,16.22 173,16.22 173.32,16.22 173.65,16.22 173.98,16.22 174.31,16.22 174.64,16.22 174.97,16.22 175.29,16.22 175.62,16.22 175.95,16.22 176.28,16.22 176.61,16.22 176.94,16.22 177.27,16.22 177.59,16.22 177.92,16.22 178.25,16.22 178.58,16.22 178.91,16.22 179.24,16.22 179.57,16.22 179.89,16.22 180.22,16.22 180.55,16.22 180.88,16.22 181.21,16.22 181.54,16.22 181.86,16.22 182.19,16.22 182.52,16.22 182.85,16.22 182.85,20.2 182.52,20.64 182.19,21.08 181.86,21.52 181.54,21.96 181.21,22.39 180.88,22.83 180.55,23.26 180.22,23.69 179.89,24.12 179.57,24.55 179.24,24.97 178.91,25.4 178.58,25.82 178.25,26.25 177.92,26.67 177.59,27.09 177.27,27.51 176.94,27.92 176.61,28.34 176.28,28.75 175.95,29.17 175.62,29.58 175.29,29.99 174.97,30.4 174.64,30.81 174.31,31.21 173.98,31.62 173.65,32.02 173.32,32.43 173,32.83 172.67,33.23 172.34,33.63 172.01,34.03 171.68,34.42 171.35,34.82 171.02,35.21 170.7,35.6 170.37,36 170.04,36.39 169.71,36.77 169.38,37.16 169.05,37.55 168.72,37.93 168.4,38.32 168.07,38.7 167.74,39.08 167.41,39.46 167.08,39.84 166.75,40.22 166.43,40.6 166.1,40.98 165.77,41.35 165.44,41.72 165.11,42.1 164.78,42.47 164.45,42.84 164.13,43.21 163.8,43.58 163.47,43.94 163.14,44.31 162.81,44.67 162.48,45.04 162.15,45.4 161.83,45.76 161.5,46.12 161.17,46.48 160.84,46.84 160.51,47.2 160.18,47.55 159.86,47.91 159.53,48.26 159.2,48.61 158.87,48.97 158.54,49.32 158.21,49.67 157.88,50.02 157.56,50.36 157.23,50.71 156.9,51.06 156.57,51.4 156.24,51.74 155.91,52.09 155.58,52.43 155.26,52.77 154.93,53.11 154.6,53.45 154.27,53.78 153.94,54.12 153.61,54.46 153.29,54.79 152.96,55.13 152.63,55.46 152.3,55.79 151.97,56.12 151.64,56.45 151.31,56.78 150.99,57.11 150.66,57.43 150.33,57.76 150,58.09 149.67,58.41 149.34,58.73 149.01,59.06 148.69,59.38 148.36,59.7 148.03,60.02 147.7,60.34 147.37,60.65 147.04,60.97 146.72,61.29 146.39,61.6 146.06,61.92 145.73,62.23 145.4,62.54 145.07,62.85 144.74,63.17 144.42,63.48 144.09,63.78 143.76,64.09 143.43,64.4"/></clipPath><clipPath id="ccp01"><rect x="116.65" y="20.55" width="65" height="65.95"/></clipPath><clipPath id="cpp01"><polygon points="117.15,84.51 117.37,84.35 117.59,84.18 117.81,84.01 118.03,83.85 118.25,83.68 118.46,83.51 118.68,83.34 118.9,83.18 119.12,83.01 119.34,82.84 119.56,82.67 119.78,82.5 120,82.33 120.22,82.16 120.44,81.99 120.65,81.82 120.87,81.65 121.09,81.48 121.31,81.31 121.53,81.14 121.75,80.97 121.97,80.8 122.19,80.62 122.41,80.45 122.62,80.28 122.84,80.11 123.06,79.93 123.28,79.76 123.5,79.59 123.72,79.41 123.94,79.24 124.16,79.06 124.38,78.89 124.6,78.71 124.82,78.54 125.03,78.36 125.25,78.18 125.47,78.01 125.69,77.83 125.91,77.65 126.13,77.47 126.35,77.3 126.57,77.12 126.79,76.94 127.01,76.76 127.22,76.58 127.44,76.4 127.66,76.22 127.88,76.04 128.1,75.86 128.32,75.68 128.54,75.5 128.76,75.32 128.98,75.14 129.19,74.96 129.41,74.77 129.63,74.59 129.85,74.41 130.07,74.23 130.29,74.04 130.51,73.86 130.73,73.67 130.95,73.49 131.17,73.31 131.39,73.12 131.6,72.93 131.82,72.75 132.04,72.56 132.26,72.38 132.48,72.19 132.7,72 132.92,71.82 133.14,71.63 133.36,71.44 133.58,71.25 133.79,71.06 134.01,70.87 134.23,70.68 134.45,70.49 134.67,70.3 134.89,70.11 135.11,69.92 135.33,69.73 135.55,69.54 135.77,69.35 135.98,69.16 136.2,68.96 136.42,68.77 136.64,68.58 136.86,68.38 137.08,68.19 137.3,68 137.52,67.8 137.74,67.61 137.96,67.41 138.17,67.22 138.39,67.02 138.61,66.82 138.83,66.63 139.05,66.43 139.27,66.23 139.49,66.03 139.71,65.84 139.93,65.64 140.15,65.44 140.36,65.24 140.58,65.04 140.8,64.84 141.02,64.64 141.24,64.44 141.46,64.24 141.68,64.04 141.9,63.83 142.12,63.63 142.34,63.43 142.55,63.23 142.77,63.02 142.99,62.82 143.21,62.62 143.43,62.41 143.43,64.4 143.21,65 142.99,65.58 142.77,66.14 142.55,66.68 142.34,67.2 142.12,67.7 141.9,68.18 141.68,68.65 141.46,69.1 141.24,69.54 141.02,69.96 140.8,70.37 140.58,70.77 140.36,71.16 140.15,71.53 139.93,71.89 139.71,72.24 139.49,72.59 139.27,72.92 139.05,73.24 138.83,73.55 138.61,73.86 138.39,74.16 138.17,74.45 137.96,74.73 137.74,75 137.52,75.27 137.3,75.53 137.08,75.78 136.86,76.03 136.64,76.27 136.42,76.51 136.2,76.74 135.98,76.97 135.77,77.19 135.55,77.4 135.33,77.61 135.11,77.82 134.89,78.02 134.67,78.21 134.45,78.4 134.23,78.59 134.01,78.78 133.79,78.96 133.58,79.13 133.36,79.31 133.14,79.48 132.92,79.64 132.7,79.8 132.48,79.96 132.26,80.12 132.04,80.27 131.82,80.42 131.6,80.57 131.39,80.72 131.17,80.86 130.95,81 130.73,81.13 130.51,81.27 130.29,81.4 130.07,81.53 129.85,81.66 129.63,81.78 129.41,81.9 129.19,82.03 128.98,82.14 128.76,82.26 128.54,82.38 128.32,82.49 128.1,82.6 127.88,82.71 127.66,82.82 127.44,82.92 127.22,83.03 127.01,83.13 126.79,83.23 126.57,83.33 126.35,83.43 126.13,83.52 125.91,83.62 125.69,83.71 125.47,83.8 125.25,83.89 125.03,83.98 124.82,84.07 124.6,84.16 124.38,84.24 124.16,84.33 123.94,84.41 123.72,84.49 123.5,84.57 123.28,84.65 123.06,84.73 122.84,84.81 122.62,84.88 122.41,84.96 122.19,85.03 121.97,85.11 121.75,85.18 121.53,85.25 121.31,85.32 121.09,85.39 120.87,85.46 120.65,85.53 120.44,85.59 120.22,85.66 120,85.72 119.78,85.79 119.56,85.85 119.34,85.91 119.12,85.98 118.9,86.04 118.68,86.1 118.46,86.16 118.25,86.22 118.03,86.27 117.81,86.33 117.59,86.39 117.37,86.44 117.15,86.5"/></clipPath></defs>
<rect x="115.65" y="19.6" width="68.2" height="68.5" fill="#fff" stroke="#bcbcbc" stroke-width="1"/>
<g clip-path="url(#ccp01)">
<g clip-path="url(#cpp01)" shape-rendering="crispEdges"><rect x="140" y="63" width="5" height="1" fill="#000000"/><rect x="139" y="64" width="4" height="1" fill="#000000"/><rect x="138" y="65" width="4" height="1" fill="#000000"/><rect x="142" y="65" width="1" height="1" fill="#060606"/><rect x="137" y="66" width="5" height="1" fill="#000000"/><rect x="142" y="66" width="1" height="1" fill="#bfbfbf"/><rect x="136" y="67" width="5" height="1" fill="#000000"/><rect x="141" y="67" width="1" height="1" fill="#464646"/><rect x="134" y="68" width="6" height="1" fill="#000000"/><rect x="140" y="68" width="1" height="1" fill="#262626"/><rect x="141" y="68" width="1" height="1" fill="#bfbfbf"/><rect x="133" y="69" width="6" height="1" fill="#000000"/><rect x="139" y="69" width="1" height="1" fill="#1a1a1a"/><rect x="140" y="69" width="1" height="1" fill="#797979"/><rect x="132" y="70" width="6" height="1" fill="#000000"/><rect x="138" y="70" width="1" height="1" fill="#131313"/><rect x="139" y="70" width="1" height="1" fill="#535353"/><rect x="140" y="70" width="1" height="1" fill="#d9d9d9"/><rect x="131" y="71" width="6" height="1" fill="#000000"/><rect x="137" y="71" width="1" height="1" fill="#131313"/><rect x="138" y="71" width="1" height="1" fill="#464646"/><rect x="139" y="71" width="1" height="1" fill="#a6a6a6"/><rect x="130" y="72" width="6" height="1" fill="#000000"/><rect x="136" y="72" width="1" height="1" fill="#131313"/><rect x="137" y="72" width="1" height="1" fill="#393939"/><rect x="138" y="72" width="1" height="1" fill="#868686"/><rect x="139" y="72" width="1" height="1" fill="#f9f9f9"/><rect x="129" y="73" width="6" height="1" fill="#000000"/><rect x="135" y="73" width="1" height="1" fill="#131313"/><rect x="136" y="73" width="1" height="1" fill="#393939"/><rect x="137" y="73" width="1" height="1" fill="#797979"/><rect x="138" y="73" width="1" height="1" fill="#d2d2d2"/><rect x="127" y="74" width="6" height="1" fill="#000000"/><rect x="133" y="74" width="1" height="1" fill="#060606"/><rect x="134" y="74" width="1" height="1" fill="#131313"/><rect x="135" y="74" width="1" height="1" fill="#393939"/><rect x="136" y="74" width="1" height="1" fill="#737373"/><rect x="137" y="74" width="1" height="1" fill="#bfbfbf"/><rect x="126" y="75" width="6" height="1" fill="#000000"/><rect x="132" y="75" width="1" height="1" fill="#060606"/><rect x="133" y="75" width="1" height="1" fill="#131313"/><rect x="134" y="75" width="1" height="1" fill="#393939"/><rect x="135" y="75" width="1" height="1" fill="#6c6c6c"/><rect x="136" y="75" width="1" height="1" fill="#b9b9b9"/><rect x="125" y="76" width="6" height="1" fill="#000000"/><rect x="131" y="76" width="1" height="1" fill="#060606"/><rect x="132" y="76" width="1" height="1" fill="#1a1a1a"/><rect x="133" y="76" width="1" height="1" fill="#404040"/><rect x="134" y="76" width="1" height="1" fill="#737373"/><rect x="135" y="76" width="1" height="1" fill="#b2b2b2"/><rect x="124" y="77" width="6" height="1" fill="#000000"/><rect x="130" y="77" width="1" height="1" fill="#060606"/><rect x="131" y="77" width="1" height="1" fill="#202020"/><rect x="132" y="77" width="1" height="1" fill="#464646"/><rect x="133" y="77" width="1" height="1" fill="#797979"/><rect x="134" y="77" width="1" height="1" fill="#b9b9b9"/><rect x="122" y="78" width="7" height="1" fill="#000000"/><rect x="129" y="78" width="1" height="1" fill="#0d0d0d"/><rect x="130" y="78" width="1" height="1" fill="#262626"/><rect x="131" y="78" width="1" height="1" fill="#4c4c4c"/><rect x="132" y="78" width="1" height="1" fill="#868686"/><rect x="133" y="78" width="1" height="1" fill="#c6c6c6"/><rect x="121" y="79" width="6" height="1" fill="#000000"/><rect x="127" y="79" width="1" height="1" fill="#060606"/><rect x="128" y="79" width="1" height="1" fill="#131313"/><rect x="129" y="79" width="1" height="1" fill="#333333"/><rect x="130" y="79" width="1" height="1" fill="#606060"/><rect x="131" y="79" width="1" height="1" fill="#939393"/><rect x="132" y="79" width="1" height="1" fill="#d2d2d2"/><rect x="120" y="80" width="6" height="1" fill="#000000"/><rect x="126" y="80" width="1" height="1" fill="#060606"/><rect x="127" y="80" width="1" height="1" fill="#202020"/><rect x="128" y="80" width="1" height="1" fill="#464646"/><rect x="129" y="80" width="1" height="1" fill="#737373"/><rect x="130" y="80" width="1" height="1" fill="#acacac"/><rect x="131" y="80" width="1" height="1" fill="#f2f2f2"/><rect x="118" y="81" width="7" height="1" fill="#000000"/><rect x="125" y="81" width="1" height="1" fill="#131313"/><rect x="126" y="81" width="1" height="1" fill="#2d2d2d"/><rect x="127" y="81" width="1" height="1" fill="#606060"/><rect x="128" y="81" width="1" height="1" fill="#939393"/><rect x="129" y="81" width="1" height="1" fill="#d2d2d2"/><rect x="117" y="82" width="6" height="1" fill="#000000"/><rect x="123" y="82" width="1" height="1" fill="#060606"/><rect x="124" y="82" width="1" height="1" fill="#202020"/><rect x="125" y="82" width="1" height="1" fill="#4c4c4c"/><rect x="126" y="82" width="1" height="1" fill="#868686"/><rect x="127" y="82" width="1" height="1" fill="#c6c6c6"/><rect x="117" y="83" width="5" height="1" fill="#000000"/><rect x="122" y="83" width="1" height="1" fill="#131313"/><rect x="123" y="83" width="1" height="1" fill="#404040"/><rect x="124" y="83" width="1" height="1" fill="#808080"/><rect x="125" y="83" width="1" height="1" fill="#cccccc"/><rect x="117" y="84" width="3" height="1" fill="#000000"/><rect x="120" y="84" width="1" height="1" fill="#060606"/><rect x="121" y="84" width="1" height="1" fill="#404040"/><rect x="122" y="84" width="1" height="1" fill="#939393"/><rect x="123" y="84" width="1" height="1" fill="#ececec"/><rect x="117" y="85" width="2" height="1" fill="#000000"/><rect x="119" y="85" width="1" height="1" fill="#464646"/><rect x="120" y="85" width="1" height="1" fill="#dfdfdf"/></g>
<polygon points="115.15,16.22 115.15,90.48 117.15,90.48 117.15,86.5 117.56,86.19 117.97,85.88 118.38,85.56 118.79,85.25 119.2,84.93 119.61,84.62 120.02,84.3 120.44,83.98 120.85,83.66 121.26,83.34 121.67,83.02 122.08,82.7 122.49,82.38 122.9,82.05 123.31,81.73 123.72,81.4 124.13,81.07 124.54,80.74 124.95,80.41 125.36,80.08 125.77,79.75 126.18,79.42 126.59,79.09 127.01,78.75 127.42,78.41 127.83,78.08 128.24,77.74 128.65,77.4 129.06,77.06 129.47,76.72 129.88,76.38 130.29,76.03 130.7,75.69 131.11,75.34 131.52,74.99 131.93,74.65 132.34,74.3 132.75,73.94 133.16,73.59 133.58,73.24 133.99,72.89 134.4,72.53 134.81,72.17 135.22,71.82 135.63,71.46 136.04,71.1 136.45,70.74 136.86,70.37 137.27,70.01 137.68,69.64 138.09,69.28 138.5,68.91 138.91,68.54 139.32,68.17 139.73,67.8 140.15,67.43 140.56,67.05 140.97,66.68 141.38,66.3 141.79,65.92 142.2,65.55 142.61,65.16 143.02,64.78 143.43,64.4 143.84,63.21 144.25,61.92 144.66,60.52 145.07,59.01 145.48,57.36 145.89,55.56 146.3,53.58 146.72,51.4 147.13,48.98 147.54,46.29 147.95,43.26 148.36,39.84 148.77,35.95 149.18,31.49 149.59,26.3 150,20.2 150.23,16.22" fill="#000"/>
<g clip-path="url(#csp01)"><rect x="115.15" y="17.2" width="69.7" height="72.3" fill="#000"/><rect x="116.15" y="21.45" width="67.7" height="2.8" fill="#fff"/><rect x="116.15" y="27.52" width="67.7" height="3.1" fill="#fff"/><rect x="116.15" y="34.08" width="67.7" height="3.1" fill="#fff"/><rect x="116.15" y="40.65" width="67.7" height="3.1" fill="#fff"/><rect x="116.15" y="47.21" width="67.7" height="3.1" fill="#fff"/><rect x="116.15" y="53.78" width="67.7" height="3.1" fill="#fff"/><rect x="116.15" y="60.35" width="67.7" height="3.1" fill="#fff"/><rect x="116.15" y="66.91" width="67.7" height="3.1" fill="#fff"/><rect x="116.15" y="73.48" width="67.7" height="3.1" fill="#fff"/><rect x="116.15" y="80.04" width="67.7" height="3.1" fill="#fff"/><rect x="116.15" y="86.61" width="67.7" height="3.1" fill="#fff"/></g>
</g>
<line x1="116.65" y1="20.5" x2="181.65" y2="20.5" stroke="#000" stroke-opacity="0.3" stroke-width="0.8"/>
<polyline points="121.09,85.39 121.65,85.21 122.21,85.02 122.77,84.83 123.33,84.64 123.88,84.43 124.44,84.22 125,84 125.56,83.77 126.12,83.53 126.68,83.28 127.23,83.02 127.79,82.75 128.35,82.47 128.91,82.18 129.47,81.87 130.03,81.56 130.59,81.22 131.14,80.87 131.7,80.5 132.26,80.12 132.82,79.71 133.38,79.29 133.94,78.84 134.49,78.37 135.05,77.87 135.61,77.34 136.17,76.77 136.73,76.18 137.29,75.54 137.85,74.87 138.4,74.14 138.96,73.37 139.52,72.53 140.08,71.64 140.64,70.67 141.2,69.63 141.75,68.49 142.31,67.25 142.87,65.89 143.43,64.4" fill="none" stroke="#333" stroke-width="0.7"/>
<defs><clipPath id="csp02"><polygon points="193.2,86.5 193.75,86.22 194.29,85.93 194.84,85.64 195.39,85.34 195.94,85.03 196.48,84.71 197.03,84.38 197.58,84.04 198.13,83.7 198.67,83.34 199.22,82.98 199.77,82.6 200.32,82.21 200.86,81.81 201.41,81.4 201.96,80.97 202.51,80.54 203.05,80.08 203.6,79.62 204.15,79.13 204.7,78.63 205.24,78.12 205.79,77.58 206.34,77.03 206.89,76.45 207.43,75.86 207.98,75.24 208.53,74.6 209.08,73.93 209.62,73.24 210.17,72.52 210.72,71.77 211.27,70.98 211.81,70.17 212.36,69.31 212.91,68.42 213.46,67.48 214,66.5 214.55,65.48 215.1,64.4 215.65,63.27 216.19,62.07 216.74,60.82 217.29,59.49 217.84,58.09 218.38,56.6 218.93,55.02 219.48,53.35 220.03,51.57 220.57,49.67 221.12,47.63 221.67,45.46 222.22,43.12 222.76,40.6 223.31,37.88 223.86,34.93 224.41,31.73 224.95,28.24 225.5,24.41 226.05,20.2 226.6,16.22 227.14,16.22 227.69,16.22 228.24,16.22 228.79,16.22 229.33,16.22 229.88,16.22 230.43,16.22 230.98,16.22 231.52,16.22 232.07,16.22 232.62,16.22 233.17,16.22 233.71,16.22 234.26,16.22 234.81,16.22 235.36,16.22 235.9,16.22 236.45,16.22 237,16.22 237.55,16.22 238.09,16.22 238.64,16.22 239.19,16.22 239.74,16.22 240.28,16.22 240.83,16.22 241.38,16.22 241.93,16.22 242.47,16.22 243.02,16.22 243.57,16.22 244.12,16.22 244.66,16.22 245.21,16.22 245.76,16.22 246.31,16.22 246.85,16.22 247.4,16.22 247.95,16.22 248.5,16.22 249.04,16.22 249.59,16.22 250.14,16.22 250.69,16.22 251.23,16.22 251.78,16.22 252.33,16.22 252.88,16.22 253.42,16.22 253.97,16.22 254.52,16.22 255.07,16.22 255.61,16.22 256.16,16.22 256.71,16.22 257.26,16.22 257.8,16.22 258.35,16.22 258.9,16.22 258.9,20.2 258.35,21.3 257.8,22.37 257.26,23.43 256.71,24.48 256.16,25.5 255.61,26.51 255.07,27.51 254.52,28.49 253.97,29.45 253.42,30.4 252.88,31.33 252.33,32.25 251.78,33.16 251.23,34.05 250.69,34.93 250.14,35.8 249.59,36.65 249.04,37.5 248.5,38.33 247.95,39.14 247.4,39.95 246.85,40.74 246.31,41.53 245.76,42.3 245.21,43.06 244.66,43.81 244.12,44.56 243.57,45.29 243.02,46.01 242.47,46.72 241.93,47.42 241.38,48.12 240.83,48.8 240.28,49.48 239.74,50.14 239.19,50.8 238.64,51.45 238.09,52.09 237.55,52.72 237,53.35 236.45,53.97 235.9,54.58 235.36,55.18 234.81,55.78 234.26,56.36 233.71,56.94 233.17,57.52 232.62,58.09 232.07,58.65 231.52,59.2 230.98,59.75 230.43,60.29 229.88,60.82 229.33,61.35 228.79,61.87 228.24,62.39 227.69,62.9 227.14,63.41 226.6,63.91 226.05,64.4 225.5,64.89 224.95,65.37 224.41,65.85 223.86,66.32 223.31,66.79 222.76,67.25 222.22,67.71 221.67,68.16 221.12,68.61 220.57,69.05 220.03,69.49 219.48,69.92 218.93,70.35 218.38,70.78 217.84,71.2 217.29,71.62 216.74,72.03 216.19,72.44 215.65,72.84 215.1,73.24 214.55,73.64 214,74.03 213.46,74.42 212.91,74.8 212.36,75.18 211.81,75.56 211.27,75.93 210.72,76.3 210.17,76.67 209.62,77.03 209.08,77.39 208.53,77.74 207.98,78.1 207.43,78.44 206.89,78.79 206.34,79.13 205.79,79.47 205.24,79.81 204.7,80.14 204.15,80.47 203.6,80.8 203.05,81.12 202.51,81.45 201.96,81.76 201.41,82.08 200.86,82.39 200.32,82.7 199.77,83.01 199.22,83.32 198.67,83.62 198.13,83.92 197.58,84.21 197.03,84.51 196.48,84.8 195.94,85.09 195.39,85.38 194.84,85.66 194.29,85.94 193.75,86.22 193.2,86.5"/></clipPath><clipPath id="ccp02"><rect x="192.7" y="20.55" width="65" height="65.95"/></clipPath></defs>
<rect x="191.7" y="19.6" width="68.2" height="68.5" fill="#fff" stroke="#bcbcbc" stroke-width="1"/>
<g clip-path="url(#ccp02)">
<polygon points="191.2,16.22 191.2,90.48 193.2,90.48 193.2,86.5 193.61,86.29 194.02,86.08 194.43,85.86 194.84,85.64 195.25,85.41 195.66,85.18 196.07,84.95 196.48,84.71 196.9,84.46 197.31,84.21 197.72,83.96 198.13,83.7 198.54,83.43 198.95,83.16 199.36,82.88 199.77,82.6 200.18,82.31 200.59,82.01 201,81.71 201.41,81.4 201.82,81.08 202.23,80.76 202.64,80.42 203.05,80.08 203.47,79.73 203.88,79.38 204.29,79.01 204.7,78.63 205.11,78.25 205.52,77.85 205.93,77.45 206.34,77.03 206.75,76.6 207.16,76.16 207.57,75.71 207.98,75.24 208.39,74.76 208.8,74.27 209.21,73.76 209.62,73.24 210.04,72.7 210.45,72.15 210.86,71.57 211.27,70.98 211.68,70.37 212.09,69.74 212.5,69.09 212.91,68.42 213.32,67.72 213.73,67 214.14,66.25 214.55,65.48 214.96,64.67 215.37,63.84 215.78,62.97 216.19,62.07 216.61,61.14 217.02,60.16 217.43,59.15 217.84,58.09 218.25,56.98 218.66,55.82 219.07,54.62 219.48,53.35 219.89,52.02 220.3,50.63 220.71,49.17 221.12,47.63 221.53,46.02 221.94,44.31 222.35,42.51 222.76,40.6 223.18,38.58 223.59,36.44 224,34.16 224.41,31.73 224.82,29.14 225.23,26.37 225.64,23.4 226.05,20.2 226.46,16.76 226.52,16.22" fill="#000"/>
<g clip-path="url(#csp02)"><rect x="191.2" y="17.2" width="69.7" height="72.3" fill="#000"/><rect x="192.2" y="21.45" width="67.7" height="2.8" fill="#fff"/><rect x="192.2" y="27.52" width="67.7" height="3.1" fill="#fff"/><rect x="192.2" y="34.08" width="67.7" height="3.1" fill="#fff"/><rect x="192.2" y="40.65" width="67.7" height="3.1" fill="#fff"/><rect x="192.2" y="47.21" width="67.7" height="3.1" fill="#fff"/><rect x="192.2" y="53.78" width="67.7" height="3.1" fill="#fff"/><rect x="192.2" y="60.35" width="67.7" height="3.1" fill="#fff"/><rect x="192.2" y="66.91" width="67.7" height="3.1" fill="#fff"/><rect x="192.2" y="73.48" width="67.7" height="3.1" fill="#fff"/><rect x="192.2" y="80.04" width="67.7" height="3.1" fill="#fff"/><rect x="192.2" y="86.61" width="67.7" height="3.1" fill="#fff"/></g>
</g>
<line x1="192.7" y1="20.5" x2="257.7" y2="20.5" stroke="#000" stroke-opacity="0.3" stroke-width="0.8"/>
<defs><clipPath id="csp03"><polygon points="269.25,86.5 269.8,86.08 270.35,85.65 270.89,85.22 271.44,84.77 271.99,84.31 272.54,83.85 273.08,83.37 273.63,82.88 274.18,82.38 274.73,81.87 275.27,81.35 275.82,80.82 276.37,80.27 276.92,79.71 277.46,79.13 278.01,78.54 278.56,77.94 279.11,77.32 279.65,76.68 280.2,76.03 280.75,75.36 281.3,74.67 281.84,73.97 282.39,73.24 282.94,72.49 283.49,71.72 284.03,70.93 284.58,70.12 285.13,69.28 285.68,68.42 286.22,67.53 286.77,66.61 287.32,65.66 287.87,64.69 288.41,63.68 288.96,62.63 289.51,61.55 290.06,60.44 290.6,59.28 291.15,58.09 291.7,56.85 292.25,55.56 292.79,54.23 293.34,52.84 293.89,51.4 294.44,49.9 294.98,48.34 295.53,46.72 296.08,45.03 296.62,43.26 297.17,41.42 297.72,39.49 298.27,37.47 298.81,35.35 299.36,33.14 299.91,30.81 300.46,28.36 301,25.78 301.55,23.07 302.1,20.2 302.65,17.17 303.19,16.22 303.74,16.22 304.29,16.22 304.84,16.22 305.38,16.22 305.93,16.22 306.48,16.22 307.03,16.22 307.57,16.22 308.12,16.22 308.67,16.22 309.22,16.22 309.76,16.22 310.31,16.22 310.86,16.22 311.41,16.22 311.95,16.22 312.5,16.22 313.05,16.22 313.6,16.22 314.14,16.22 314.69,16.22 315.24,16.22 315.79,16.22 316.33,16.22 316.88,16.22 317.43,16.22 317.98,16.22 318.52,16.22 319.07,16.22 319.62,16.22 320.17,16.22 320.71,16.22 321.26,16.22 321.81,16.22 322.36,16.22 322.9,16.22 323.45,16.22 324,16.22 324.55,16.22 325.09,16.22 325.64,16.22 326.19,16.22 326.74,16.22 327.28,16.22 327.83,16.22 328.38,16.22 328.93,16.22 329.47,16.22 330.02,16.22 330.57,16.22 331.12,16.22 331.66,16.22 332.21,16.22 332.76,16.22 333.31,16.22 333.86,16.22 334.4,16.22 334.95,16.22 334.95,20.2 334.4,22.36 333.86,24.41 333.31,26.37 332.76,28.24 332.21,30.02 331.66,31.73 331.12,33.37 330.57,34.93 330.02,36.44 329.47,37.88 328.93,39.27 328.38,40.6 327.83,41.88 327.28,43.12 326.74,44.31 326.19,45.46 325.64,46.56 325.09,47.63 324.55,48.67 324,49.67 323.45,50.63 322.9,51.57 322.36,52.47 321.81,53.35 321.26,54.2 320.71,55.02 320.17,55.82 319.62,56.6 319.07,57.35 318.52,58.09 317.98,58.8 317.43,59.49 316.88,60.16 316.33,60.82 315.79,61.45 315.24,62.07 314.69,62.68 314.14,63.27 313.6,63.84 313.05,64.4 312.5,64.95 311.95,65.48 311.41,66 310.86,66.5 310.31,67 309.76,67.48 309.22,67.96 308.67,68.42 308.12,68.87 307.57,69.31 307.03,69.74 306.48,70.17 305.93,70.58 305.38,70.98 304.84,71.38 304.29,71.77 303.74,72.15 303.19,72.52 302.65,72.88 302.1,73.24 301.55,73.59 301,73.93 300.46,74.27 299.91,74.6 299.36,74.92 298.81,75.24 298.27,75.55 297.72,75.86 297.17,76.16 296.62,76.45 296.08,76.74 295.53,77.03 294.98,77.31 294.44,77.58 293.89,77.85 293.34,78.12 292.79,78.38 292.25,78.63 291.7,78.89 291.15,79.13 290.6,79.38 290.06,79.62 289.51,79.85 288.96,80.08 288.41,80.31 287.87,80.54 287.32,80.76 286.77,80.97 286.22,81.19 285.68,81.4 285.13,81.61 284.58,81.81 284.03,82.01 283.49,82.21 282.94,82.41 282.39,82.6 281.84,82.79 281.3,82.98 280.75,83.16 280.2,83.34 279.65,83.52 279.11,83.7 278.56,83.87 278.01,84.04 277.46,84.21 276.92,84.38 276.37,84.55 275.82,84.71 275.27,84.87 274.73,85.03 274.18,85.18 273.63,85.34 273.08,85.49 272.54,85.64 271.99,85.79 271.44,85.93 270.89,86.08 270.35,86.22 269.8,86.36 269.25,86.5"/></clipPath><clipPath id="ccp03"><rect x="268.75" y="20.55" width="65" height="65.95"/></clipPath></defs>
<rect x="267.75" y="19.6" width="68.2" height="68.5" fill="#fff" stroke="#bcbcbc" stroke-width="1"/>
<g clip-path="url(#ccp03)">
<polygon points="267.25,16.22 267.25,90.48 269.25,90.48 269.25,86.5 269.66,86.19 270.07,85.87 270.48,85.55 270.89,85.22 271.3,84.88 271.71,84.54 272.12,84.2 272.54,83.85 272.95,83.49 273.36,83.13 273.77,82.76 274.18,82.38 274.59,82 275,81.61 275.41,81.22 275.82,80.82 276.23,80.41 276.64,79.99 277.05,79.57 277.46,79.13 277.87,78.69 278.28,78.24 278.69,77.79 279.11,77.32 279.52,76.84 279.93,76.36 280.34,75.87 280.75,75.36 281.16,74.85 281.57,74.32 281.98,73.79 282.39,73.24 282.8,72.68 283.21,72.11 283.62,71.53 284.03,70.93 284.44,70.33 284.85,69.7 285.26,69.07 285.68,68.42 286.09,67.75 286.5,67.07 286.91,66.38 287.32,65.66 287.73,64.93 288.14,64.18 288.55,63.42 288.96,62.63 289.37,61.83 289.78,61 290.19,60.15 290.6,59.28 291.01,58.39 291.42,57.47 291.83,56.53 292.25,55.56 292.66,54.56 293.07,53.54 293.48,52.49 293.89,51.4 294.3,50.28 294.71,49.13 295.12,47.94 295.53,46.72 295.94,45.46 296.35,44.15 296.76,42.81 297.17,41.42 297.58,39.98 297.99,38.49 298.4,36.95 298.81,35.35 299.23,33.7 299.64,31.99 300.05,30.21 300.46,28.36 300.87,26.44 301.28,24.44 301.69,22.36 302.1,20.2 302.51,17.94 302.81,16.22" fill="#000"/>
<g clip-path="url(#csp03)"><rect x="267.25" y="17.2" width="69.7" height="72.3" fill="#000"/><rect x="268.25" y="21.45" width="67.7" height="2.8" fill="#fff"/><rect x="268.25" y="27.52" width="67.7" height="3.1" fill="#fff"/><rect x="268.25" y="34.08" width="67.7" height="3.1" fill="#fff"/><rect x="268.25" y="40.65" width="67.7" height="3.1" fill="#fff"/><rect x="268.25" y="47.21" width="67.7" height="3.1" fill="#fff"/><rect x="268.25" y="53.78" width="67.7" height="3.1" fill="#fff"/><rect x="268.25" y="60.35" width="67.7" height="3.1" fill="#fff"/><rect x="268.25" y="66.91" width="67.7" height="3.1" fill="#fff"/><rect x="268.25" y="73.48" width="67.7" height="3.1" fill="#fff"/><rect x="268.25" y="80.04" width="67.7" height="3.1" fill="#fff"/><rect x="268.25" y="86.61" width="67.7" height="3.1" fill="#fff"/></g>
</g>
<line x1="268.75" y1="20.5" x2="333.75" y2="20.5" stroke="#000" stroke-opacity="0.3" stroke-width="0.8"/>
<defs><clipPath id="csp04"><polygon points="345.3,86.5 345.85,85.94 346.4,85.38 346.94,84.8 347.49,84.21 348.04,83.62 348.59,83.01 349.13,82.39 349.68,81.76 350.23,81.12 350.78,80.47 351.32,79.81 351.87,79.13 352.42,78.44 352.97,77.74 353.51,77.03 354.06,76.3 354.61,75.56 355.16,74.8 355.7,74.03 356.25,73.24 356.8,72.44 357.35,71.62 357.89,70.78 358.44,69.92 358.99,69.05 359.54,68.16 360.08,67.25 360.63,66.32 361.18,65.37 361.73,64.4 362.27,63.41 362.82,62.39 363.37,61.35 363.92,60.29 364.46,59.2 365.01,58.09 365.56,56.94 366.11,55.78 366.65,54.58 367.2,53.35 367.75,52.09 368.3,50.8 368.84,49.48 369.39,48.12 369.94,46.72 370.49,45.29 371.03,43.81 371.58,42.3 372.13,40.74 372.68,39.14 373.22,37.5 373.77,35.8 374.32,34.05 374.87,32.25 375.41,30.4 375.96,28.49 376.51,26.51 377.06,24.48 377.6,22.37 378.15,20.2 378.7,17.95 379.25,16.22 379.79,16.22 380.34,16.22 380.89,16.22 381.44,16.22 381.98,16.22 382.53,16.22 383.08,16.22 383.62,16.22 384.17,16.22 384.72,16.22 385.27,16.22 385.81,16.22 386.36,16.22 386.91,16.22 387.46,16.22 388,16.22 388.55,16.22 389.1,16.22 389.65,16.22 390.19,16.22 390.74,16.22 391.29,16.22 391.84,16.22 392.38,16.22 392.93,16.22 393.48,16.22 394.03,16.22 394.57,16.22 395.12,16.22 395.67,16.22 396.22,16.22 396.76,16.22 397.31,16.22 397.86,16.22 398.41,16.22 398.95,16.22 399.5,16.22 400.05,16.22 400.6,16.22 401.14,16.22 401.69,16.22 402.24,16.22 402.79,16.22 403.33,16.22 403.88,16.22 404.43,16.22 404.98,16.22 405.52,16.22 406.07,16.22 406.62,16.22 407.17,16.22 407.71,16.22 408.26,16.22 408.81,16.22 409.36,16.22 409.9,16.22 410.45,16.22 411,16.22 411,90.48 410.45,90.48 409.9,90.48 409.36,90.48 408.81,90.48 408.26,90.48 407.71,90.48 407.17,90.48 406.62,90.48 406.07,90.48 405.52,90.48 404.98,90.48 404.43,90.48 403.88,90.48 403.33,90.48 402.79,90.48 402.24,90.48 401.69,90.48 401.14,90.48 400.6,90.48 400.05,90.48 399.5,90.48 398.95,90.48 398.41,90.48 397.86,90.48 397.31,90.48 396.76,90.48 396.22,90.48 395.67,90.48 395.12,90.48 394.57,90.48 394.03,90.48 393.48,90.48 392.93,90.48 392.38,90.48 391.84,90.48 391.29,90.48 390.74,90.48 390.19,90.48 389.65,90.48 389.1,90.48 388.55,90.48 388,90.48 387.46,90.48 386.91,90.48 386.36,90.48 385.81,90.48 385.27,90.48 384.72,90.48 384.17,90.48 383.62,90.48 383.08,90.48 382.53,90.48 381.98,90.48 381.44,90.48 380.89,90.48 380.34,90.48 379.79,90.48 379.25,90.48 378.7,90.48 378.15,90.48 377.6,90.48 377.06,90.48 376.51,90.48 375.96,90.48 375.41,90.48 374.87,90.48 374.32,90.48 373.77,90.48 373.22,90.48 372.68,90.48 372.13,90.48 371.58,90.48 371.03,90.48 370.49,90.48 369.94,90.48 369.39,90.48 368.84,90.48 368.3,90.48 367.75,90.48 367.2,90.48 366.65,90.48 366.11,90.48 365.56,90.48 365.01,90.48 364.46,90.48 363.92,90.48 363.37,90.48 362.82,90.48 362.27,90.48 361.73,90.48 361.18,90.48 360.63,90.48 360.08,90.48 359.54,90.48 358.99,90.48 358.44,90.48 357.89,90.48 357.35,90.48 356.8,90.48 356.25,90.48 355.7,90.48 355.16,90.48 354.61,90.48 354.06,90.48 353.51,90.48 352.97,90.48 352.42,90.48 351.87,90.48 351.32,90.48 350.78,90.48 350.23,90.48 349.68,90.48 349.13,90.48 348.59,90.48 348.04,90.48 347.49,90.48 346.94,90.48 346.4,90.48 345.85,90.48 345.3,90.48"/></clipPath><clipPath id="ccp04"><rect x="344.8" y="20.55" width="65" height="65.95"/></clipPath></defs>
<rect x="343.8" y="19.6" width="68.2" height="68.5" fill="#fff" stroke="#bcbcbc" stroke-width="1"/>
<g clip-path="url(#ccp04)">
<polygon points="343.3,16.22 343.3,90.48 345.3,90.48 345.3,86.5 345.71,86.08 346.12,85.66 346.53,85.23 346.94,84.8 347.35,84.36 347.76,83.92 348.17,83.47 348.59,83.01 349,82.55 349.41,82.08 349.82,81.61 350.23,81.12 350.64,80.64 351.05,80.14 351.46,79.64 351.87,79.13 352.28,78.62 352.69,78.1 353.1,77.57 353.51,77.03 353.92,76.48 354.33,75.93 354.74,75.37 355.16,74.8 355.57,74.22 355.98,73.64 356.39,73.04 356.8,72.44 357.21,71.82 357.62,71.2 358.03,70.57 358.44,69.92 358.85,69.27 359.26,68.61 359.67,67.94 360.08,67.25 360.49,66.56 360.9,65.85 361.31,65.13 361.73,64.4 362.14,63.66 362.55,62.9 362.96,62.13 363.37,61.35 363.78,60.56 364.19,59.75 364.6,58.92 365.01,58.09 365.42,57.23 365.83,56.36 366.24,55.48 366.65,54.58 367.06,53.66 367.47,52.72 367.88,51.77 368.3,50.8 368.71,49.81 369.12,48.8 369.53,47.77 369.94,46.72 370.35,45.65 370.76,44.56 371.17,43.44 371.58,42.3 371.99,41.14 372.4,39.95 372.81,38.74 373.22,37.5 373.63,36.23 374.04,34.93 374.45,33.61 374.87,32.25 375.28,30.87 375.69,29.45 376.1,28 376.51,26.51 376.92,24.99 377.33,23.43 377.74,21.84 378.15,20.2 378.56,18.52 378.97,16.8 379.11,16.22" fill="#000"/>
<g clip-path="url(#csp04)"><rect x="343.3" y="17.2" width="69.7" height="72.3" fill="#000"/><rect x="344.3" y="21.45" width="67.7" height="2.8" fill="#fff"/><rect x="344.3" y="27.52" width="67.7" height="3.1" fill="#fff"/><rect x="344.3" y="34.08" width="67.7" height="3.1" fill="#fff"/><rect x="344.3" y="40.65" width="67.7" height="3.1" fill="#fff"/><rect x="344.3" y="47.21" width="67.7" height="3.1" fill="#fff"/><rect x="344.3" y="53.78" width="67.7" height="3.1" fill="#fff"/><rect x="344.3" y="60.35" width="67.7" height="3.1" fill="#fff"/><rect x="344.3" y="66.91" width="67.7" height="3.1" fill="#fff"/><rect x="344.3" y="73.48" width="67.7" height="3.1" fill="#fff"/><rect x="344.3" y="80.04" width="67.7" height="3.1" fill="#fff"/><rect x="344.3" y="86.61" width="67.7" height="3.1" fill="#fff"/></g>
</g>
<line x1="344.8" y1="20.5" x2="409.8" y2="20.5" stroke="#000" stroke-opacity="0.3" stroke-width="0.8"/>
<defs><clipPath id="csp10"><polygon points="73.95,117.62 74.22,117.62 74.5,117.62 74.77,117.62 75.05,117.62 75.32,117.62 75.59,117.62 75.87,117.62 76.14,117.62 76.41,117.62 76.69,117.62 76.96,117.62 77.24,117.62 77.51,117.62 77.78,117.62 78.06,117.62 78.33,117.62 78.6,117.62 78.88,117.62 79.15,117.62 79.43,117.62 79.7,117.62 79.97,117.62 80.25,117.62 80.52,117.62 80.79,117.62 81.07,117.62 81.34,117.62 81.62,117.62 81.89,117.62 82.16,117.62 82.44,117.62 82.71,117.62 82.98,117.62 83.26,117.62 83.53,117.62 83.81,117.62 84.08,117.62 84.35,117.62 84.63,117.62 84.9,117.62 85.17,117.62 85.45,117.62 85.72,117.62 86,117.62 86.27,117.62 86.54,117.62 86.82,117.62 87.09,117.62 87.36,117.62 87.64,117.62 87.91,117.62 88.19,117.62 88.46,117.62 88.73,117.62 89.01,117.62 89.28,117.62 89.55,117.62 89.83,117.62 90.1,117.62 90.38,117.62 90.65,117.62 90.92,117.62 91.2,117.62 91.47,117.62 91.74,117.62 92.02,117.62 92.29,117.62 92.57,117.62 92.84,117.62 93.11,117.62 93.39,117.62 93.66,117.62 93.93,117.62 94.21,117.62 94.48,117.62 94.76,117.62 95.03,117.62 95.3,117.62 95.58,117.62 95.85,117.62 96.12,117.62 96.4,117.62 96.67,117.62 96.95,117.62 97.22,117.62 97.49,117.62 97.77,117.62 98.04,117.62 98.31,117.62 98.59,117.62 98.86,117.62 99.14,117.62 99.41,117.62 99.68,117.62 99.96,117.62 100.23,117.62 100.5,117.62 100.78,117.62 101.05,117.62 101.33,117.62 101.6,117.62 101.87,117.62 102.15,117.62 102.42,117.62 102.69,117.62 102.97,117.62 103.24,117.62 103.52,117.62 103.79,117.62 104.06,117.62 104.34,117.62 104.61,117.62 104.88,117.62 105.16,117.62 105.43,117.62 105.71,117.62 105.98,117.62 106.25,117.62 106.53,117.62 106.8,117.62 106.8,121.6 106.53,121.88 106.25,122.15 105.98,122.43 105.71,122.7 105.43,122.98 105.16,123.26 104.88,123.53 104.61,123.81 104.34,124.09 104.06,124.36 103.79,124.64 103.52,124.91 103.24,125.19 102.97,125.47 102.69,125.74 102.42,126.02 102.15,126.3 101.87,126.57 101.6,126.85 101.33,127.12 101.05,127.4 100.78,127.68 100.5,127.95 100.23,128.23 99.96,128.51 99.68,128.78 99.41,129.06 99.14,129.34 98.86,129.61 98.59,129.89 98.31,130.16 98.04,130.44 97.77,130.72 97.49,130.99 97.22,131.27 96.95,131.54 96.67,131.82 96.4,132.1 96.12,132.37 95.85,132.65 95.58,132.93 95.3,133.2 95.03,133.48 94.76,133.75 94.48,134.03 94.21,134.31 93.93,134.58 93.66,134.86 93.39,135.14 93.11,135.41 92.84,135.69 92.57,135.97 92.29,136.24 92.02,136.52 91.74,136.79 91.47,137.07 91.2,137.35 90.92,137.62 90.65,137.9 90.38,138.18 90.1,138.45 89.83,138.73 89.55,139 89.28,139.28 89.01,139.56 88.73,139.83 88.46,140.11 88.19,140.38 87.91,140.66 87.64,140.94 87.36,141.21 87.09,141.49 86.82,141.77 86.54,142.04 86.27,142.32 86,142.59 85.72,142.87 85.45,143.15 85.17,143.42 84.9,143.7 84.63,143.98 84.35,144.25 84.08,144.53 83.81,144.81 83.53,145.08 83.26,145.36 82.98,145.63 82.71,145.91 82.44,146.19 82.16,146.46 81.89,146.74 81.62,147.01 81.34,147.29 81.07,147.57 80.79,147.84 80.52,148.12 80.25,148.4 79.97,148.67 79.7,148.95 79.43,149.22 79.15,149.5 78.88,149.78 78.6,150.05 78.33,150.33 78.06,150.61 77.78,150.88 77.51,151.16 77.24,151.44 76.96,151.71 76.69,151.99 76.41,152.26 76.14,152.54 75.87,152.82 75.59,153.09 75.32,153.37 75.05,153.64 74.77,153.92 74.5,154.2 74.22,154.47 73.95,154.75"/></clipPath><clipPath id="ccp10"><rect x="40.6" y="121.95" width="65" height="65.95"/></clipPath><clipPath id="cpp10"><polygon points="41.1,185.91 41.37,185.63 41.65,185.36 41.92,185.08 42.2,184.81 42.47,184.53 42.74,184.25 43.02,183.98 43.29,183.7 43.56,183.42 43.84,183.15 44.11,182.87 44.39,182.6 44.66,182.32 44.93,182.04 45.21,181.77 45.48,181.49 45.75,181.21 46.03,180.94 46.3,180.66 46.58,180.39 46.85,180.11 47.12,179.83 47.4,179.56 47.67,179.28 47.94,179 48.22,178.73 48.49,178.45 48.77,178.18 49.04,177.9 49.31,177.62 49.59,177.35 49.86,177.07 50.13,176.79 50.41,176.52 50.68,176.24 50.96,175.97 51.23,175.69 51.5,175.41 51.78,175.14 52.05,174.86 52.32,174.58 52.6,174.31 52.87,174.03 53.15,173.76 53.42,173.48 53.69,173.2 53.97,172.93 54.24,172.65 54.51,172.37 54.79,172.1 55.06,171.82 55.34,171.55 55.61,171.27 55.88,170.99 56.16,170.72 56.43,170.44 56.7,170.16 56.98,169.89 57.25,169.61 57.53,169.34 57.8,169.06 58.07,168.78 58.35,168.51 58.62,168.23 58.89,167.95 59.17,167.68 59.44,167.4 59.72,167.13 59.99,166.85 60.26,166.57 60.54,166.3 60.81,166.02 61.08,165.74 61.36,165.47 61.63,165.19 61.91,164.92 62.18,164.64 62.45,164.36 62.73,164.09 63,163.81 63.27,163.53 63.55,163.26 63.82,162.98 64.09,162.71 64.37,162.43 64.64,162.15 64.92,161.88 65.19,161.6 65.46,161.32 65.74,161.05 66.01,160.77 66.29,160.5 66.56,160.22 66.83,159.94 67.11,159.67 67.38,159.39 67.65,159.11 67.93,158.84 68.2,158.56 68.48,158.29 68.75,158.01 69.02,157.73 69.3,157.46 69.57,157.18 69.84,156.9 70.12,156.63 70.39,156.35 70.67,156.08 70.94,155.8 71.21,155.52 71.49,155.25 71.76,154.97 72.03,154.69 72.31,154.42 72.58,154.14 72.86,153.87 73.13,153.59 73.4,153.31 73.68,153.04 73.95,152.76 73.95,191.88 73.68,191.88 73.4,191.88 73.13,191.88 72.86,191.88 72.58,191.88 72.31,191.88 72.03,191.88 71.76,191.88 71.49,191.88 71.21,191.88 70.94,191.88 70.67,191.88 70.39,191.88 70.12,191.88 69.84,191.88 69.57,191.88 69.3,191.88 69.02,191.88 68.75,191.88 68.48,191.88 68.2,191.88 67.93,191.88 67.65,191.88 67.38,191.88 67.11,191.88 66.83,191.88 66.56,191.88 66.29,191.88 66.01,191.88 65.74,191.88 65.46,191.88 65.19,191.88 64.92,191.88 64.64,191.88 64.37,191.88 64.09,191.88 63.82,191.88 63.55,191.88 63.27,191.88 63,191.88 62.73,191.88 62.45,191.88 62.18,191.88 61.91,191.88 61.63,191.88 61.36,191.88 61.08,191.88 60.81,191.88 60.54,191.88 60.26,191.88 59.99,191.88 59.72,191.88 59.44,191.88 59.17,191.88 58.89,191.88 58.62,191.88 58.35,191.88 58.07,191.88 57.8,191.88 57.53,191.88 57.25,191.88 56.98,191.88 56.7,191.88 56.43,191.88 56.16,191.88 55.88,191.88 55.61,191.88 55.34,191.88 55.06,191.88 54.79,191.88 54.51,191.88 54.24,191.88 53.97,191.88 53.69,191.88 53.42,191.88 53.15,191.88 52.87,191.88 52.6,191.88 52.32,191.88 52.05,191.88 51.78,191.88 51.5,191.88 51.23,191.88 50.96,191.88 50.68,191.88 50.41,191.88 50.13,191.88 49.86,191.88 49.59,191.88 49.31,191.88 49.04,191.88 48.77,191.88 48.49,191.88 48.22,191.88 47.94,191.88 47.67,191.88 47.4,191.88 47.12,191.88 46.85,191.88 46.58,191.88 46.3,191.88 46.03,191.88 45.75,191.88 45.48,191.88 45.21,191.88 44.93,191.88 44.66,191.88 44.39,191.88 44.11,191.88 43.84,191.88 43.56,191.88 43.29,191.88 43.02,191.88 42.74,191.88 42.47,191.88 42.2,191.88 41.92,191.88 41.65,191.88 41.37,191.88 41.1,191.88"/></clipPath><linearGradient id="lgp10" gradientUnits="userSpaceOnUse" x1="41.1" y1="0" x2="106.8" y2="0"><stop offset="0" stop-color="#fff"/><stop offset="0.5" stop-color="#767676"/><stop offset="1" stop-color="#000"/></linearGradient><linearGradient id="lsp10" gradientUnits="userSpaceOnUse" x1="41.1" y1="0" x2="106.8" y2="0"><stop offset="0" stop-color="#fff"/><stop offset="0.8" stop-color="#050505"/><stop offset="1" stop-color="#000"/></linearGradient></defs>
<rect x="39.6" y="121" width="68.2" height="68.5" fill="#fff" stroke="#bcbcbc" stroke-width="1"/>
<g clip-path="url(#ccp10)">
<g clip-path="url(#cpp10)" shape-rendering="crispEdges"><rect x="71" y="153" width="2" height="1" fill="#868686"/><rect x="73" y="153" width="2" height="1" fill="#808080"/><rect x="70" y="154" width="1" height="1" fill="#8c8c8c"/><rect x="71" y="154" width="2" height="1" fill="#868686"/><rect x="73" y="154" width="2" height="1" fill="#808080"/><rect x="69" y="155" width="1" height="1" fill="#939393"/><rect x="70" y="155" width="1" height="1" fill="#8c8c8c"/><rect x="71" y="155" width="2" height="1" fill="#868686"/><rect x="73" y="155" width="1" height="1" fill="#b2b2b2"/><rect x="68" y="156" width="2" height="1" fill="#939393"/><rect x="70" y="156" width="1" height="1" fill="#8c8c8c"/><rect x="71" y="156" width="1" height="1" fill="#868686"/><rect x="72" y="156" width="1" height="1" fill="#999999"/><rect x="73" y="156" width="1" height="1" fill="#dfdfdf"/><rect x="67" y="157" width="1" height="1" fill="#999999"/><rect x="68" y="157" width="2" height="1" fill="#939393"/><rect x="70" y="157" width="1" height="1" fill="#8c8c8c"/><rect x="71" y="157" width="1" height="1" fill="#999999"/><rect x="72" y="157" width="1" height="1" fill="#c6c6c6"/><rect x="73" y="157" width="1" height="1" fill="#ececec"/><rect x="66" y="158" width="1" height="1" fill="#9f9f9f"/><rect x="67" y="158" width="1" height="1" fill="#999999"/><rect x="68" y="158" width="2" height="1" fill="#939393"/><rect x="70" y="158" width="1" height="1" fill="#999999"/><rect x="71" y="158" width="1" height="1" fill="#b9b9b9"/><rect x="72" y="158" width="1" height="1" fill="#d9d9d9"/><rect x="73" y="158" width="1" height="1" fill="#f2f2f2"/><rect x="65" y="159" width="2" height="1" fill="#9f9f9f"/><rect x="67" y="159" width="1" height="1" fill="#999999"/><rect x="68" y="159" width="1" height="1" fill="#939393"/><rect x="69" y="159" width="1" height="1" fill="#999999"/><rect x="70" y="159" width="1" height="1" fill="#b2b2b2"/><rect x="71" y="159" width="1" height="1" fill="#cccccc"/><rect x="72" y="159" width="1" height="1" fill="#dfdfdf"/><rect x="73" y="159" width="1" height="1" fill="#f9f9f9"/><rect x="64" y="160" width="1" height="1" fill="#a6a6a6"/><rect x="65" y="160" width="2" height="1" fill="#9f9f9f"/><rect x="67" y="160" width="2" height="1" fill="#999999"/><rect x="69" y="160" width="1" height="1" fill="#b2b2b2"/><rect x="70" y="160" width="1" height="1" fill="#c6c6c6"/><rect x="71" y="160" width="1" height="1" fill="#d9d9d9"/><rect x="72" y="160" width="1" height="1" fill="#e6e6e6"/><rect x="73" y="160" width="1" height="1" fill="#f9f9f9"/><rect x="63" y="161" width="2" height="1" fill="#a6a6a6"/><rect x="65" y="161" width="3" height="1" fill="#9f9f9f"/><rect x="68" y="161" width="1" height="1" fill="#b2b2b2"/><rect x="69" y="161" width="1" height="1" fill="#bfbfbf"/><rect x="70" y="161" width="1" height="1" fill="#d2d2d2"/><rect x="71" y="161" width="1" height="1" fill="#dfdfdf"/><rect x="72" y="161" width="1" height="1" fill="#ececec"/><rect x="73" y="161" width="1" height="1" fill="#f9f9f9"/><rect x="62" y="162" width="1" height="1" fill="#acacac"/><rect x="63" y="162" width="2" height="1" fill="#a6a6a6"/><rect x="65" y="162" width="2" height="1" fill="#9f9f9f"/><rect x="67" y="162" width="1" height="1" fill="#b2b2b2"/><rect x="68" y="162" width="1" height="1" fill="#bfbfbf"/><rect x="69" y="162" width="1" height="1" fill="#cccccc"/><rect x="70" y="162" width="1" height="1" fill="#d9d9d9"/><rect x="71" y="162" width="1" height="1" fill="#e6e6e6"/><rect x="72" y="162" width="1" height="1" fill="#f2f2f2"/><rect x="73" y="162" width="1" height="1" fill="#f9f9f9"/><rect x="61" y="163" width="1" height="1" fill="#b2b2b2"/><rect x="62" y="163" width="1" height="1" fill="#acacac"/><rect x="63" y="163" width="3" height="1" fill="#a6a6a6"/><rect x="66" y="163" width="1" height="1" fill="#b2b2b2"/><rect x="67" y="163" width="1" height="1" fill="#bfbfbf"/><rect x="68" y="163" width="1" height="1" fill="#cccccc"/><rect x="69" y="163" width="1" height="1" fill="#d9d9d9"/><rect x="70" y="163" width="1" height="1" fill="#dfdfdf"/><rect x="71" y="163" width="1" height="1" fill="#ececec"/><rect x="72" y="163" width="1" height="1" fill="#f2f2f2"/><rect x="73" y="163" width="1" height="1" fill="#f9f9f9"/><rect x="60" y="164" width="2" height="1" fill="#b2b2b2"/><rect x="62" y="164" width="1" height="1" fill="#acacac"/><rect x="63" y="164" width="2" height="1" fill="#a6a6a6"/><rect x="65" y="164" width="1" height="1" fill="#b2b2b2"/><rect x="66" y="164" width="1" height="1" fill="#bfbfbf"/><rect x="67" y="164" width="1" height="1" fill="#cccccc"/><rect x="68" y="164" width="1" height="1" fill="#d2d2d2"/><rect x="69" y="164" width="1" height="1" fill="#dfdfdf"/><rect x="70" y="164" width="1" height="1" fill="#e6e6e6"/><rect x="71" y="164" width="1" height="1" fill="#ececec"/><rect x="72" y="164" width="1" height="1" fill="#f2f2f2"/><rect x="59" y="165" width="1" height="1" fill="#b9b9b9"/><rect x="60" y="165" width="2" height="1" fill="#b2b2b2"/><rect x="62" y="165" width="2" height="1" fill="#acacac"/><rect x="64" y="165" width="1" height="1" fill="#b9b9b9"/><rect x="65" y="165" width="1" height="1" fill="#bfbfbf"/><rect x="66" y="165" width="1" height="1" fill="#cccccc"/><rect x="67" y="165" width="1" height="1" fill="#d2d2d2"/><rect x="68" y="165" width="1" height="1" fill="#d9d9d9"/><rect x="69" y="165" width="1" height="1" fill="#e6e6e6"/><rect x="70" y="165" width="1" height="1" fill="#ececec"/><rect x="71" y="165" width="1" height="1" fill="#f2f2f2"/><rect x="72" y="165" width="1" height="1" fill="#f9f9f9"/><rect x="58" y="166" width="2" height="1" fill="#b9b9b9"/><rect x="60" y="166" width="2" height="1" fill="#b2b2b2"/><rect x="62" y="166" width="1" height="1" fill="#acacac"/><rect x="63" y="166" width="1" height="1" fill="#b9b9b9"/><rect x="64" y="166" width="1" height="1" fill="#c6c6c6"/><rect x="65" y="166" width="1" height="1" fill="#cccccc"/><rect x="66" y="166" width="1" height="1" fill="#d2d2d2"/><rect x="67" y="166" width="1" height="1" fill="#d9d9d9"/><rect x="68" y="166" width="1" height="1" fill="#dfdfdf"/><rect x="69" y="166" width="1" height="1" fill="#e6e6e6"/><rect x="70" y="166" width="1" height="1" fill="#ececec"/><rect x="71" y="166" width="1" height="1" fill="#f2f2f2"/><rect x="72" y="166" width="1" height="1" fill="#f9f9f9"/><rect x="57" y="167" width="1" height="1" fill="#bfbfbf"/><rect x="58" y="167" width="2" height="1" fill="#b9b9b9"/><rect x="60" y="167" width="2" height="1" fill="#b2b2b2"/><rect x="62" y="167" width="1" height="1" fill="#b9b9b9"/><rect x="63" y="167" width="1" height="1" fill="#c6c6c6"/><rect x="64" y="167" width="1" height="1" fill="#cccccc"/><rect x="65" y="167" width="1" height="1" fill="#d2d2d2"/><rect x="66" y="167" width="1" height="1" fill="#d9d9d9"/><rect x="67" y="167" width="1" height="1" fill="#dfdfdf"/><rect x="68" y="167" width="1" height="1" fill="#e6e6e6"/><rect x="69" y="167" width="1" height="1" fill="#ececec"/><rect x="70" y="167" width="2" height="1" fill="#f2f2f2"/><rect x="72" y="167" width="1" height="1" fill="#f9f9f9"/><rect x="56" y="168" width="1" height="1" fill="#c6c6c6"/><rect x="57" y="168" width="1" height="1" fill="#bfbfbf"/><rect x="58" y="168" width="3" height="1" fill="#b9b9b9"/><rect x="61" y="168" width="1" height="1" fill="#bfbfbf"/><rect x="62" y="168" width="1" height="1" fill="#c6c6c6"/><rect x="63" y="168" width="1" height="1" fill="#cccccc"/><rect x="64" y="168" width="1" height="1" fill="#d2d2d2"/><rect x="65" y="168" width="1" height="1" fill="#d9d9d9"/><rect x="66" y="168" width="1" height="1" fill="#dfdfdf"/><rect x="67" y="168" width="1" height="1" fill="#e6e6e6"/><rect x="68" y="168" width="2" height="1" fill="#ececec"/><rect x="70" y="168" width="1" height="1" fill="#f2f2f2"/><rect x="71" y="168" width="2" height="1" fill="#f9f9f9"/><rect x="55" y="169" width="2" height="1" fill="#c6c6c6"/><rect x="57" y="169" width="1" height="1" fill="#bfbfbf"/><rect x="58" y="169" width="2" height="1" fill="#b9b9b9"/><rect x="60" y="169" width="1" height="1" fill="#bfbfbf"/><rect x="61" y="169" width="1" height="1" fill="#cccccc"/><rect x="62" y="169" width="1" height="1" fill="#d2d2d2"/><rect x="63" y="169" width="2" height="1" fill="#d9d9d9"/><rect x="65" y="169" width="1" height="1" fill="#dfdfdf"/><rect x="66" y="169" width="1" height="1" fill="#e6e6e6"/><rect x="67" y="169" width="2" height="1" fill="#ececec"/><rect x="69" y="169" width="2" height="1" fill="#f2f2f2"/><rect x="71" y="169" width="2" height="1" fill="#f9f9f9"/><rect x="54" y="170" width="1" height="1" fill="#cccccc"/><rect x="55" y="170" width="2" height="1" fill="#c6c6c6"/><rect x="57" y="170" width="2" height="1" fill="#bfbfbf"/><rect x="59" y="170" width="1" height="1" fill="#c6c6c6"/><rect x="60" y="170" width="1" height="1" fill="#cccccc"/><rect x="61" y="170" width="1" height="1" fill="#d2d2d2"/><rect x="62" y="170" width="1" height="1" fill="#d9d9d9"/><rect x="63" y="170" width="2" height="1" fill="#dfdfdf"/><rect x="65" y="170" width="1" height="1" fill="#e6e6e6"/><rect x="66" y="170" width="2" height="1" fill="#ececec"/><rect x="68" y="170" width="2" height="1" fill="#f2f2f2"/><rect x="70" y="170" width="3" height="1" fill="#f9f9f9"/><rect x="53" y="171" width="2" height="1" fill="#cccccc"/><rect x="55" y="171" width="2" height="1" fill="#c6c6c6"/><rect x="57" y="171" width="1" height="1" fill="#bfbfbf"/><rect x="58" y="171" width="1" height="1" fill="#c6c6c6"/><rect x="59" y="171" width="1" height="1" fill="#cccccc"/><rect x="60" y="171" width="1" height="1" fill="#d2d2d2"/><rect x="61" y="171" width="1" height="1" fill="#d9d9d9"/><rect x="62" y="171" width="2" height="1" fill="#dfdfdf"/><rect x="64" y="171" width="1" height="1" fill="#e6e6e6"/><rect x="65" y="171" width="2" height="1" fill="#ececec"/><rect x="67" y="171" width="3" height="1" fill="#f2f2f2"/><rect x="70" y="171" width="2" height="1" fill="#f9f9f9"/><rect x="52" y="172" width="1" height="1" fill="#d2d2d2"/><rect x="53" y="172" width="2" height="1" fill="#cccccc"/><rect x="55" y="172" width="2" height="1" fill="#c6c6c6"/><rect x="57" y="172" width="1" height="1" fill="#cccccc"/><rect x="58" y="172" width="1" height="1" fill="#d2d2d2"/><rect x="59" y="172" width="2" height="1" fill="#d9d9d9"/><rect x="61" y="172" width="1" height="1" fill="#dfdfdf"/><rect x="62" y="172" width="2" height="1" fill="#e6e6e6"/><rect x="64" y="172" width="2" height="1" fill="#ececec"/><rect x="66" y="172" width="3" height="1" fill="#f2f2f2"/><rect x="69" y="172" width="3" height="1" fill="#f9f9f9"/><rect x="51" y="173" width="1" height="1" fill="#d9d9d9"/><rect x="52" y="173" width="1" height="1" fill="#d2d2d2"/><rect x="53" y="173" width="2" height="1" fill="#cccccc"/><rect x="55" y="173" width="1" height="1" fill="#c6c6c6"/><rect x="56" y="173" width="1" height="1" fill="#cccccc"/><rect x="57" y="173" width="1" height="1" fill="#d2d2d2"/><rect x="58" y="173" width="1" height="1" fill="#d9d9d9"/><rect x="59" y="173" width="2" height="1" fill="#dfdfdf"/><rect x="61" y="173" width="2" height="1" fill="#e6e6e6"/><rect x="63" y="173" width="2" height="1" fill="#ececec"/><rect x="65" y="173" width="3" height="1" fill="#f2f2f2"/><rect x="68" y="173" width="4" height="1" fill="#f9f9f9"/><rect x="50" y="174" width="2" height="1" fill="#d9d9d9"/><rect x="52" y="174" width="1" height="1" fill="#d2d2d2"/><rect x="53" y="174" width="2" height="1" fill="#cccccc"/><rect x="55" y="174" width="1" height="1" fill="#d2d2d2"/><rect x="56" y="174" width="2" height="1" fill="#d9d9d9"/><rect x="58" y="174" width="1" height="1" fill="#dfdfdf"/><rect x="59" y="174" width="2" height="1" fill="#e6e6e6"/><rect x="61" y="174" width="3" height="1" fill="#ececec"/><rect x="64" y="174" width="3" height="1" fill="#f2f2f2"/><rect x="67" y="174" width="4" height="1" fill="#f9f9f9"/><rect x="49" y="175" width="1" height="1" fill="#dfdfdf"/><rect x="50" y="175" width="2" height="1" fill="#d9d9d9"/><rect x="52" y="175" width="2" height="1" fill="#d2d2d2"/><rect x="54" y="175" width="2" height="1" fill="#d9d9d9"/><rect x="56" y="175" width="1" height="1" fill="#dfdfdf"/><rect x="57" y="175" width="3" height="1" fill="#e6e6e6"/><rect x="60" y="175" width="2" height="1" fill="#ececec"/><rect x="62" y="175" width="4" height="1" fill="#f2f2f2"/><rect x="66" y="175" width="5" height="1" fill="#f9f9f9"/><rect x="48" y="176" width="2" height="1" fill="#dfdfdf"/><rect x="50" y="176" width="2" height="1" fill="#d9d9d9"/><rect x="52" y="176" width="1" height="1" fill="#d2d2d2"/><rect x="53" y="176" width="1" height="1" fill="#d9d9d9"/><rect x="54" y="176" width="2" height="1" fill="#dfdfdf"/><rect x="56" y="176" width="2" height="1" fill="#e6e6e6"/><rect x="58" y="176" width="2" height="1" fill="#ececec"/><rect x="60" y="176" width="4" height="1" fill="#f2f2f2"/><rect x="64" y="176" width="6" height="1" fill="#f9f9f9"/><rect x="47" y="177" width="1" height="1" fill="#e6e6e6"/><rect x="48" y="177" width="2" height="1" fill="#dfdfdf"/><rect x="50" y="177" width="2" height="1" fill="#d9d9d9"/><rect x="52" y="177" width="2" height="1" fill="#dfdfdf"/><rect x="54" y="177" width="2" height="1" fill="#e6e6e6"/><rect x="56" y="177" width="3" height="1" fill="#ececec"/><rect x="59" y="177" width="4" height="1" fill="#f2f2f2"/><rect x="63" y="177" width="6" height="1" fill="#f9f9f9"/><rect x="46" y="178" width="1" height="1" fill="#ececec"/><rect x="47" y="178" width="1" height="1" fill="#e6e6e6"/><rect x="48" y="178" width="2" height="1" fill="#dfdfdf"/><rect x="50" y="178" width="1" height="1" fill="#d9d9d9"/><rect x="51" y="178" width="1" height="1" fill="#dfdfdf"/><rect x="52" y="178" width="2" height="1" fill="#e6e6e6"/><rect x="54" y="178" width="3" height="1" fill="#ececec"/><rect x="57" y="178" width="4" height="1" fill="#f2f2f2"/><rect x="61" y="178" width="7" height="1" fill="#f9f9f9"/><rect x="45" y="179" width="2" height="1" fill="#ececec"/><rect x="47" y="179" width="1" height="1" fill="#e6e6e6"/><rect x="48" y="179" width="2" height="1" fill="#dfdfdf"/><rect x="50" y="179" width="2" height="1" fill="#e6e6e6"/><rect x="52" y="179" width="2" height="1" fill="#ececec"/><rect x="54" y="179" width="5" height="1" fill="#f2f2f2"/><rect x="59" y="179" width="8" height="1" fill="#f9f9f9"/><rect x="44" y="180" width="1" height="1" fill="#f2f2f2"/><rect x="45" y="180" width="2" height="1" fill="#ececec"/><rect x="47" y="180" width="3" height="1" fill="#e6e6e6"/><rect x="50" y="180" width="2" height="1" fill="#ececec"/><rect x="52" y="180" width="4" height="1" fill="#f2f2f2"/><rect x="56" y="180" width="9" height="1" fill="#f9f9f9"/><rect x="44" y="181" width="1" height="1" fill="#f2f2f2"/><rect x="45" y="181" width="2" height="1" fill="#ececec"/><rect x="47" y="181" width="1" height="1" fill="#e6e6e6"/><rect x="48" y="181" width="2" height="1" fill="#ececec"/><rect x="50" y="181" width="4" height="1" fill="#f2f2f2"/><rect x="54" y="181" width="8" height="1" fill="#f9f9f9"/><rect x="43" y="182" width="1" height="1" fill="#f9f9f9"/><rect x="44" y="182" width="1" height="1" fill="#f2f2f2"/><rect x="45" y="182" width="3" height="1" fill="#ececec"/><rect x="48" y="182" width="3" height="1" fill="#f2f2f2"/><rect x="51" y="182" width="8" height="1" fill="#f9f9f9"/><rect x="42" y="183" width="2" height="1" fill="#f9f9f9"/><rect x="44" y="183" width="1" height="1" fill="#f2f2f2"/><rect x="45" y="183" width="1" height="1" fill="#ececec"/><rect x="46" y="183" width="2" height="1" fill="#f2f2f2"/><rect x="48" y="183" width="8" height="1" fill="#f9f9f9"/><rect x="42" y="184" width="2" height="1" fill="#f9f9f9"/><rect x="44" y="184" width="2" height="1" fill="#f2f2f2"/><rect x="46" y="184" width="6" height="1" fill="#f9f9f9"/><rect x="42" y="185" width="5" height="1" fill="#f9f9f9"/><rect x="42" y="186" width="1" height="1" fill="#f9f9f9"/></g>
<polygon points="39.1,117.62 39.1,191.88 41.1,191.88 41.1,187.9 41.51,187.49 41.92,187.07 42.33,186.66 42.74,186.24 43.15,185.83 43.56,185.41 43.97,185 44.39,184.59 44.8,184.17 45.21,183.76 45.62,183.34 46.03,182.93 46.44,182.51 46.85,182.1 47.26,181.68 47.67,181.27 48.08,180.86 48.49,180.44 48.9,180.03 49.31,179.61 49.72,179.2 50.13,178.78 50.54,178.37 50.96,177.96 51.37,177.54 51.78,177.13 52.19,176.71 52.6,176.3 53.01,175.88 53.42,175.47 53.83,175.05 54.24,174.64 54.65,174.23 55.06,173.81 55.47,173.4 55.88,172.98 56.29,172.57 56.7,172.15 57.11,171.74 57.53,171.32 57.94,170.91 58.35,170.5 58.76,170.08 59.17,169.67 59.58,169.25 59.99,168.84 60.4,168.42 60.81,168.01 61.22,167.6 61.63,167.18 62.04,166.77 62.45,166.35 62.86,165.94 63.27,165.52 63.68,165.11 64.09,164.69 64.51,164.28 64.92,163.87 65.33,163.45 65.74,163.04 66.15,162.62 66.56,162.21 66.97,161.79 67.38,161.38 67.79,160.97 68.2,160.55 68.61,160.14 69.02,159.72 69.43,159.31 69.84,158.89 70.25,158.48 70.67,158.06 71.08,157.65 71.49,157.24 71.9,156.82 72.31,156.41 72.72,155.99 73.13,155.58 73.54,155.16 73.95,117.62" fill="url(#lgp10)"/>
<g clip-path="url(#csp10)"><rect x="39.1" y="118.6" width="69.7" height="72.3" fill="url(#lsp10)"/><rect x="40.1" y="122.65" width="67.7" height="3.2" fill="#fff"/><rect x="40.1" y="128.72" width="67.7" height="3.5" fill="#fff"/><rect x="40.1" y="135.28" width="67.7" height="3.5" fill="#fff"/><rect x="40.1" y="141.85" width="67.7" height="3.5" fill="#fff"/><rect x="40.1" y="148.41" width="67.7" height="3.5" fill="#fff"/><rect x="40.1" y="154.98" width="67.7" height="3.5" fill="#fff"/><rect x="40.1" y="161.55" width="67.7" height="3.5" fill="#fff"/><rect x="40.1" y="168.11" width="67.7" height="3.5" fill="#fff"/><rect x="40.1" y="174.68" width="67.7" height="3.5" fill="#fff"/><rect x="40.1" y="181.24" width="67.7" height="3.5" fill="#fff"/><rect x="40.1" y="187.81" width="67.7" height="3.5" fill="#fff"/></g>
</g>
<line x1="40.6" y1="121.9" x2="105.6" y2="121.9" stroke="#000" stroke-opacity="0.3" stroke-width="0.8"/>
<line x1="73.5" y1="155.25" x2="73.5" y2="188.7" stroke="#707070" stroke-width="1"/>
<line x1="73.5" y1="121.6" x2="73.5" y2="155.25" stroke="#333" stroke-width="1"/>
<polyline points="41.1,187.9 42.2,186.8 43.29,185.69 44.39,184.59 45.48,183.48 46.58,182.38 47.67,181.27 48.77,180.16 49.86,179.06 50.96,177.96 52.05,176.85 53.15,175.75 54.24,174.64 55.34,173.53 56.43,172.43 57.53,171.32 58.62,170.22 59.72,169.12 60.81,168.01 61.91,166.91 63,165.8 64.09,164.69 65.19,163.59 66.29,162.49 67.38,161.38 68.48,160.28 69.57,159.17 70.67,158.06 71.76,156.96 72.86,155.85 73.95,154.75 75.05,153.64 76.14,152.54 77.24,151.44 78.33,150.33 79.43,149.22 80.52,148.12 81.62,147.01 82.71,145.91 83.81,144.81 84.9,143.7 86,142.59 87.09,141.49 88.19,140.38 89.28,139.28 90.38,138.18 91.47,137.07 92.57,135.97 93.66,134.86 94.76,133.75 95.85,132.65 96.95,131.54 98.04,130.44 99.14,129.34 100.23,128.23 101.33,127.12 102.42,126.02 103.52,124.91 104.61,123.81 105.71,122.7 106.8,121.6" fill="none" stroke="#777" stroke-width="0.6"/>
<defs><clipPath id="csp11"><polygon points="143.43,165.8 143.76,164.85 144.09,163.84 144.42,162.77 144.74,161.63 145.07,160.41 145.4,159.1 145.73,157.7 146.06,156.19 146.39,154.56 146.72,152.8 147.04,150.89 147.37,148.8 147.7,146.52 148.03,144.01 148.36,141.24 148.69,138.17 149.01,134.75 149.34,130.91 149.67,126.56 150,121.6 150.33,117.62 150.66,117.62 150.99,117.62 151.31,117.62 151.64,117.62 151.97,117.62 152.3,117.62 152.63,117.62 152.96,117.62 153.29,117.62 153.61,117.62 153.94,117.62 154.27,117.62 154.6,117.62 154.93,117.62 155.26,117.62 155.58,117.62 155.91,117.62 156.24,117.62 156.57,117.62 156.9,117.62 157.23,117.62 157.56,117.62 157.88,117.62 158.21,117.62 158.54,117.62 158.87,117.62 159.2,117.62 159.53,117.62 159.86,117.62 160.18,117.62 160.51,117.62 160.84,117.62 161.17,117.62 161.5,117.62 161.83,117.62 162.15,117.62 162.48,117.62 162.81,117.62 163.14,117.62 163.47,117.62 163.8,117.62 164.13,117.62 164.45,117.62 164.78,117.62 165.11,117.62 165.44,117.62 165.77,117.62 166.1,117.62 166.43,117.62 166.75,117.62 167.08,117.62 167.41,117.62 167.74,117.62 168.07,117.62 168.4,117.62 168.72,117.62 169.05,117.62 169.38,117.62 169.71,117.62 170.04,117.62 170.37,117.62 170.7,117.62 171.02,117.62 171.35,117.62 171.68,117.62 172.01,117.62 172.34,117.62 172.67,117.62 173,117.62 173.32,117.62 173.65,117.62 173.98,117.62 174.31,117.62 174.64,117.62 174.97,117.62 175.29,117.62 175.62,117.62 175.95,117.62 176.28,117.62 176.61,117.62 176.94,117.62 177.27,117.62 177.59,117.62 177.92,117.62 178.25,117.62 178.58,117.62 178.91,117.62 179.24,117.62 179.57,117.62 179.89,117.62 180.22,117.62 180.55,117.62 180.88,117.62 181.21,117.62 181.54,117.62 181.86,117.62 182.19,117.62 182.52,117.62 182.85,117.62 182.85,121.6 182.52,122.04 182.19,122.48 181.86,122.92 181.54,123.36 181.21,123.79 180.88,124.23 180.55,124.66 180.22,125.09 179.89,125.52 179.57,125.95 179.24,126.37 178.91,126.8 178.58,127.22 178.25,127.65 177.92,128.07 177.59,128.49 177.27,128.91 176.94,129.32 176.61,129.74 176.28,130.15 175.95,130.57 175.62,130.98 175.29,131.39 174.97,131.8 174.64,132.21 174.31,132.61 173.98,133.02 173.65,133.42 173.32,133.83 173,134.23 172.67,134.63 172.34,135.03 172.01,135.43 171.68,135.82 171.35,136.22 171.02,136.61 170.7,137 170.37,137.4 170.04,137.79 169.71,138.17 169.38,138.56 169.05,138.95 168.72,139.33 168.4,139.72 168.07,140.1 167.74,140.48 167.41,140.86 167.08,141.24 166.75,141.62 166.43,142 166.1,142.38 165.77,142.75 165.44,143.12 165.11,143.5 164.78,143.87 164.45,144.24 164.13,144.61 163.8,144.98 163.47,145.34 163.14,145.71 162.81,146.07 162.48,146.44 162.15,146.8 161.83,147.16 161.5,147.52 161.17,147.88 160.84,148.24 160.51,148.6 160.18,148.95 159.86,149.31 159.53,149.66 159.2,150.01 158.87,150.37 158.54,150.72 158.21,151.07 157.88,151.42 157.56,151.76 157.23,152.11 156.9,152.46 156.57,152.8 156.24,153.14 155.91,153.49 155.58,153.83 155.26,154.17 154.93,154.51 154.6,154.85 154.27,155.18 153.94,155.52 153.61,155.86 153.29,156.19 152.96,156.53 152.63,156.86 152.3,157.19 151.97,157.52 151.64,157.85 151.31,158.18 150.99,158.51 150.66,158.83 150.33,159.16 150,159.49 149.67,159.81 149.34,160.13 149.01,160.46 148.69,160.78 148.36,161.1 148.03,161.42 147.7,161.74 147.37,162.05 147.04,162.37 146.72,162.69 146.39,163 146.06,163.32 145.73,163.63 145.4,163.94 145.07,164.25 144.74,164.57 144.42,164.88 144.09,165.18 143.76,165.49 143.43,165.8"/></clipPath><clipPath id="ccp11"><rect x="116.65" y="121.95" width="65" height="65.95"/></clipPath><clipPath id="cpp11"><polygon points="117.15,185.91 117.37,185.75 117.59,185.58 117.81,185.41 118.03,185.25 118.25,185.08 118.46,184.91 118.68,184.74 118.9,184.58 119.12,184.41 119.34,184.24 119.56,184.07 119.78,183.9 120,183.73 120.22,183.56 120.44,183.39 120.65,183.22 120.87,183.05 121.09,182.88 121.31,182.71 121.53,182.54 121.75,182.37 121.97,182.2 122.19,182.02 122.41,181.85 122.62,181.68 122.84,181.51 123.06,181.33 123.28,181.16 123.5,180.99 123.72,180.81 123.94,180.64 124.16,180.46 124.38,180.29 124.6,180.11 124.82,179.94 125.03,179.76 125.25,179.58 125.47,179.41 125.69,179.23 125.91,179.05 126.13,178.87 126.35,178.7 126.57,178.52 126.79,178.34 127.01,178.16 127.22,177.98 127.44,177.8 127.66,177.62 127.88,177.44 128.1,177.26 128.32,177.08 128.54,176.9 128.76,176.72 128.98,176.54 129.19,176.36 129.41,176.17 129.63,175.99 129.85,175.81 130.07,175.63 130.29,175.44 130.51,175.26 130.73,175.07 130.95,174.89 131.17,174.71 131.39,174.52 131.6,174.33 131.82,174.15 132.04,173.96 132.26,173.78 132.48,173.59 132.7,173.4 132.92,173.22 133.14,173.03 133.36,172.84 133.58,172.65 133.79,172.46 134.01,172.27 134.23,172.08 134.45,171.89 134.67,171.7 134.89,171.51 135.11,171.32 135.33,171.13 135.55,170.94 135.77,170.75 135.98,170.56 136.2,170.36 136.42,170.17 136.64,169.98 136.86,169.78 137.08,169.59 137.3,169.4 137.52,169.2 137.74,169.01 137.96,168.81 138.17,168.62 138.39,168.42 138.61,168.22 138.83,168.03 139.05,167.83 139.27,167.63 139.49,167.43 139.71,167.24 139.93,167.04 140.15,166.84 140.36,166.64 140.58,166.44 140.8,166.24 141.02,166.04 141.24,165.84 141.46,165.64 141.68,165.44 141.9,165.23 142.12,165.03 142.34,164.83 142.55,164.63 142.77,164.42 142.99,164.22 143.21,164.02 143.43,163.81 143.43,165.8 143.21,166.4 142.99,166.98 142.77,167.54 142.55,168.08 142.34,168.6 142.12,169.1 141.9,169.58 141.68,170.05 141.46,170.5 141.24,170.94 141.02,171.36 140.8,171.77 140.58,172.17 140.36,172.56 140.15,172.93 139.93,173.29 139.71,173.64 139.49,173.99 139.27,174.32 139.05,174.64 138.83,174.95 138.61,175.26 138.39,175.56 138.17,175.85 137.96,176.13 137.74,176.4 137.52,176.67 137.3,176.93 137.08,177.18 136.86,177.43 136.64,177.67 136.42,177.91 136.2,178.14 135.98,178.37 135.77,178.59 135.55,178.8 135.33,179.01 135.11,179.22 134.89,179.42 134.67,179.61 134.45,179.8 134.23,179.99 134.01,180.18 133.79,180.36 133.58,180.53 133.36,180.71 133.14,180.88 132.92,181.04 132.7,181.2 132.48,181.36 132.26,181.52 132.04,181.67 131.82,181.82 131.6,181.97 131.39,182.12 131.17,182.26 130.95,182.4 130.73,182.53 130.51,182.67 130.29,182.8 130.07,182.93 129.85,183.06 129.63,183.18 129.41,183.3 129.19,183.43 128.98,183.54 128.76,183.66 128.54,183.78 128.32,183.89 128.1,184 127.88,184.11 127.66,184.22 127.44,184.32 127.22,184.43 127.01,184.53 126.79,184.63 126.57,184.73 126.35,184.83 126.13,184.92 125.91,185.02 125.69,185.11 125.47,185.2 125.25,185.29 125.03,185.38 124.82,185.47 124.6,185.56 124.38,185.64 124.16,185.73 123.94,185.81 123.72,185.89 123.5,185.97 123.28,186.05 123.06,186.13 122.84,186.21 122.62,186.28 122.41,186.36 122.19,186.43 121.97,186.51 121.75,186.58 121.53,186.65 121.31,186.72 121.09,186.79 120.87,186.86 120.65,186.93 120.44,186.99 120.22,187.06 120,187.12 119.78,187.19 119.56,187.25 119.34,187.31 119.12,187.38 118.9,187.44 118.68,187.5 118.46,187.56 118.25,187.62 118.03,187.67 117.81,187.73 117.59,187.79 117.37,187.84 117.15,187.9"/></clipPath><linearGradient id="lgp11" gradientUnits="userSpaceOnUse" x1="117.15" y1="0" x2="182.85" y2="0"><stop offset="0" stop-color="#fff"/><stop offset="0.5" stop-color="#767676"/><stop offset="1" stop-color="#000"/></linearGradient><linearGradient id="lsp11" gradientUnits="userSpaceOnUse" x1="117.15" y1="0" x2="182.85" y2="0"><stop offset="0" stop-color="#fff"/><stop offset="0.8" stop-color="#050505"/><stop offset="1" stop-color="#000"/></linearGradient></defs>
<rect x="115.65" y="121" width="68.2" height="68.5" fill="#fff" stroke="#bcbcbc" stroke-width="1"/>
<g clip-path="url(#ccp11)">
<g clip-path="url(#cpp11)" shape-rendering="crispEdges"><rect x="141" y="164" width="2" height="1" fill="#9f9f9f"/><rect x="143" y="164" width="2" height="1" fill="#999999"/><rect x="139" y="165" width="2" height="1" fill="#a6a6a6"/><rect x="141" y="165" width="2" height="1" fill="#9f9f9f"/><rect x="143" y="165" width="2" height="1" fill="#999999"/><rect x="138" y="166" width="1" height="1" fill="#acacac"/><rect x="139" y="166" width="2" height="1" fill="#a6a6a6"/><rect x="141" y="166" width="2" height="1" fill="#9f9f9f"/><rect x="137" y="167" width="1" height="1" fill="#b2b2b2"/><rect x="138" y="167" width="1" height="1" fill="#acacac"/><rect x="139" y="167" width="2" height="1" fill="#a6a6a6"/><rect x="141" y="167" width="1" height="1" fill="#9f9f9f"/><rect x="136" y="168" width="2" height="1" fill="#b2b2b2"/><rect x="138" y="168" width="1" height="1" fill="#acacac"/><rect x="139" y="168" width="2" height="1" fill="#a6a6a6"/><rect x="141" y="168" width="1" height="1" fill="#d2d2d2"/><rect x="135" y="169" width="1" height="1" fill="#b9b9b9"/><rect x="136" y="169" width="2" height="1" fill="#b2b2b2"/><rect x="138" y="169" width="1" height="1" fill="#acacac"/><rect x="139" y="169" width="1" height="1" fill="#a6a6a6"/><rect x="140" y="169" width="1" height="1" fill="#c6c6c6"/><rect x="134" y="170" width="2" height="1" fill="#b9b9b9"/><rect x="136" y="170" width="2" height="1" fill="#b2b2b2"/><rect x="138" y="170" width="1" height="1" fill="#acacac"/><rect x="139" y="170" width="1" height="1" fill="#bfbfbf"/><rect x="133" y="171" width="1" height="1" fill="#bfbfbf"/><rect x="134" y="171" width="2" height="1" fill="#b9b9b9"/><rect x="136" y="171" width="2" height="1" fill="#b2b2b2"/><rect x="138" y="171" width="1" height="1" fill="#b9b9b9"/><rect x="139" y="171" width="1" height="1" fill="#f2f2f2"/><rect x="131" y="172" width="2" height="1" fill="#c6c6c6"/><rect x="133" y="172" width="1" height="1" fill="#bfbfbf"/><rect x="134" y="172" width="2" height="1" fill="#b9b9b9"/><rect x="136" y="172" width="1" height="1" fill="#b2b2b2"/><rect x="137" y="172" width="1" height="1" fill="#bfbfbf"/><rect x="138" y="172" width="1" height="1" fill="#e6e6e6"/><rect x="130" y="173" width="1" height="1" fill="#cccccc"/><rect x="131" y="173" width="2" height="1" fill="#c6c6c6"/><rect x="133" y="173" width="1" height="1" fill="#bfbfbf"/><rect x="134" y="173" width="2" height="1" fill="#b9b9b9"/><rect x="136" y="173" width="1" height="1" fill="#bfbfbf"/><rect x="137" y="173" width="1" height="1" fill="#e6e6e6"/><rect x="129" y="174" width="2" height="1" fill="#cccccc"/><rect x="131" y="174" width="2" height="1" fill="#c6c6c6"/><rect x="133" y="174" width="1" height="1" fill="#bfbfbf"/><rect x="134" y="174" width="1" height="1" fill="#b9b9b9"/><rect x="135" y="174" width="1" height="1" fill="#c6c6c6"/><rect x="136" y="174" width="1" height="1" fill="#e6e6e6"/><rect x="128" y="175" width="1" height="1" fill="#d2d2d2"/><rect x="129" y="175" width="2" height="1" fill="#cccccc"/><rect x="131" y="175" width="2" height="1" fill="#c6c6c6"/><rect x="133" y="175" width="1" height="1" fill="#bfbfbf"/><rect x="134" y="175" width="1" height="1" fill="#cccccc"/><rect x="135" y="175" width="1" height="1" fill="#e6e6e6"/><rect x="127" y="176" width="1" height="1" fill="#d9d9d9"/><rect x="128" y="176" width="1" height="1" fill="#d2d2d2"/><rect x="129" y="176" width="2" height="1" fill="#cccccc"/><rect x="131" y="176" width="2" height="1" fill="#c6c6c6"/><rect x="133" y="176" width="1" height="1" fill="#d2d2d2"/><rect x="134" y="176" width="1" height="1" fill="#e6e6e6"/><rect x="125" y="177" width="1" height="1" fill="#dfdfdf"/><rect x="126" y="177" width="2" height="1" fill="#d9d9d9"/><rect x="128" y="177" width="1" height="1" fill="#d2d2d2"/><rect x="129" y="177" width="2" height="1" fill="#cccccc"/><rect x="131" y="177" width="1" height="1" fill="#c6c6c6"/><rect x="132" y="177" width="1" height="1" fill="#d2d2d2"/><rect x="133" y="177" width="1" height="1" fill="#ececec"/><rect x="124" y="178" width="1" height="1" fill="#e6e6e6"/><rect x="125" y="178" width="1" height="1" fill="#dfdfdf"/><rect x="126" y="178" width="2" height="1" fill="#d9d9d9"/><rect x="128" y="178" width="1" height="1" fill="#d2d2d2"/><rect x="129" y="178" width="2" height="1" fill="#cccccc"/><rect x="131" y="178" width="1" height="1" fill="#d9d9d9"/><rect x="132" y="178" width="1" height="1" fill="#ececec"/><rect x="123" y="179" width="2" height="1" fill="#e6e6e6"/><rect x="125" y="179" width="1" height="1" fill="#dfdfdf"/><rect x="126" y="179" width="2" height="1" fill="#d9d9d9"/><rect x="128" y="179" width="2" height="1" fill="#d2d2d2"/><rect x="130" y="179" width="1" height="1" fill="#e6e6e6"/><rect x="131" y="179" width="1" height="1" fill="#f2f2f2"/><rect x="122" y="180" width="1" height="1" fill="#ececec"/><rect x="123" y="180" width="2" height="1" fill="#e6e6e6"/><rect x="125" y="180" width="1" height="1" fill="#dfdfdf"/><rect x="126" y="180" width="3" height="1" fill="#d9d9d9"/><rect x="129" y="180" width="1" height="1" fill="#ececec"/><rect x="130" y="180" width="1" height="1" fill="#f9f9f9"/><rect x="120" y="181" width="1" height="1" fill="#f2f2f2"/><rect x="121" y="181" width="2" height="1" fill="#ececec"/><rect x="123" y="181" width="2" height="1" fill="#e6e6e6"/><rect x="125" y="181" width="1" height="1" fill="#dfdfdf"/><rect x="126" y="181" width="1" height="1" fill="#d9d9d9"/><rect x="127" y="181" width="1" height="1" fill="#e6e6e6"/><rect x="128" y="181" width="1" height="1" fill="#f2f2f2"/><rect x="119" y="182" width="1" height="1" fill="#f9f9f9"/><rect x="120" y="182" width="1" height="1" fill="#f2f2f2"/><rect x="121" y="182" width="2" height="1" fill="#ececec"/><rect x="123" y="182" width="2" height="1" fill="#e6e6e6"/><rect x="125" y="182" width="1" height="1" fill="#dfdfdf"/><rect x="126" y="182" width="1" height="1" fill="#ececec"/><rect x="127" y="182" width="1" height="1" fill="#f9f9f9"/><rect x="118" y="183" width="2" height="1" fill="#f9f9f9"/><rect x="120" y="183" width="1" height="1" fill="#f2f2f2"/><rect x="121" y="183" width="2" height="1" fill="#ececec"/><rect x="123" y="183" width="1" height="1" fill="#e6e6e6"/><rect x="124" y="183" width="1" height="1" fill="#ececec"/><rect x="125" y="183" width="1" height="1" fill="#f2f2f2"/><rect x="118" y="184" width="2" height="1" fill="#f9f9f9"/><rect x="120" y="184" width="1" height="1" fill="#f2f2f2"/><rect x="121" y="184" width="2" height="1" fill="#ececec"/><rect x="123" y="184" width="1" height="1" fill="#f2f2f2"/><rect x="118" y="185" width="2" height="1" fill="#f9f9f9"/><rect x="120" y="185" width="2" height="1" fill="#f2f2f2"/><rect x="118" y="186" width="2" height="1" fill="#f9f9f9"/></g>
<polygon points="115.15,117.62 115.15,191.88 117.15,191.88 117.15,187.9 117.56,187.59 117.97,187.28 118.38,186.96 118.79,186.65 119.2,186.33 119.61,186.02 120.02,185.7 120.44,185.38 120.85,185.06 121.26,184.74 121.67,184.42 122.08,184.1 122.49,183.78 122.9,183.45 123.31,183.13 123.72,182.8 124.13,182.47 124.54,182.14 124.95,181.81 125.36,181.48 125.77,181.15 126.18,180.82 126.59,180.49 127.01,180.15 127.42,179.81 127.83,179.48 128.24,179.14 128.65,178.8 129.06,178.46 129.47,178.12 129.88,177.78 130.29,177.43 130.7,177.09 131.11,176.74 131.52,176.39 131.93,176.05 132.34,175.7 132.75,175.34 133.16,174.99 133.58,174.64 133.99,174.29 134.4,173.93 134.81,173.57 135.22,173.22 135.63,172.86 136.04,172.5 136.45,172.14 136.86,171.77 137.27,171.41 137.68,171.04 138.09,170.68 138.5,170.31 138.91,169.94 139.32,169.57 139.73,169.2 140.15,168.83 140.56,168.45 140.97,168.08 141.38,167.7 141.79,167.32 142.2,166.95 142.61,166.56 143.02,166.18 143.43,165.8 143.84,164.61 144.25,163.32 144.66,161.92 145.07,160.41 145.48,158.76 145.89,156.96 146.3,154.98 146.72,152.8 147.13,150.38 147.54,147.69 147.95,144.66 148.36,141.24 148.77,137.35 149.18,132.89 149.59,127.7 150,121.6 150.23,117.62" fill="url(#lgp11)"/>
<g clip-path="url(#csp11)"><rect x="115.15" y="118.6" width="69.7" height="72.3" fill="url(#lsp11)"/><rect x="116.15" y="122.65" width="67.7" height="3.2" fill="#fff"/><rect x="116.15" y="128.72" width="67.7" height="3.5" fill="#fff"/><rect x="116.15" y="135.28" width="67.7" height="3.5" fill="#fff"/><rect x="116.15" y="141.85" width="67.7" height="3.5" fill="#fff"/><rect x="116.15" y="148.41" width="67.7" height="3.5" fill="#fff"/><rect x="116.15" y="154.98" width="67.7" height="3.5" fill="#fff"/><rect x="116.15" y="161.55" width="67.7" height="3.5" fill="#fff"/><rect x="116.15" y="168.11" width="67.7" height="3.5" fill="#fff"/><rect x="116.15" y="174.68" width="67.7" height="3.5" fill="#fff"/><rect x="116.15" y="181.24" width="67.7" height="3.5" fill="#fff"/><rect x="116.15" y="187.81" width="67.7" height="3.5" fill="#fff"/></g>
</g>
<line x1="116.65" y1="121.9" x2="181.65" y2="121.9" stroke="#000" stroke-opacity="0.3" stroke-width="0.8"/>
<polyline points="119.12,187.38 119.54,187.26 119.95,187.14 120.37,187.01 120.79,186.88 121.2,186.75 121.62,186.62 122.03,186.48 122.45,186.34 122.87,186.2 123.28,186.05 123.7,185.9 124.11,185.74 124.53,185.58 124.95,185.42 125.36,185.25 125.78,185.07 126.19,184.89 126.61,184.71 127.03,184.52 127.44,184.32 127.86,184.12 128.28,183.91 128.69,183.7 129.11,183.47 129.52,183.24 129.94,183.01 130.36,182.76 130.77,182.51 131.19,182.24 131.6,181.97" fill="none" stroke="#777" stroke-width="0.6" stroke-dasharray="1.2 1"/>
<polyline points="131.6,181.97 131.91,181.76 132.22,181.55 132.52,181.33 132.83,181.11 133.14,180.88 133.44,180.64 133.75,180.39 134.06,180.14 134.36,179.88 134.67,179.61 134.98,179.34 135.28,179.05 135.59,178.76 135.9,178.45 136.2,178.14 136.51,177.82 136.82,177.48 137.12,177.13 137.43,176.77 137.74,176.4 138.04,176.02 138.35,175.61 138.66,175.2 138.96,174.77 139.27,174.32 139.58,173.85 139.88,173.36 140.19,172.86 140.5,172.33 140.8,171.77 141.11,171.2 141.42,170.59 141.72,169.96 142.03,169.29 142.34,168.6 142.64,167.87 142.95,167.1 143.25,166.28 143.56,165.43 143.87,164.52 144.17,163.57 144.48,162.55 144.79,161.47 145.09,160.33 145.4,159.1 145.71,157.8 146.01,156.4 146.32,154.9 146.63,153.28 146.93,151.54 147.24,149.66 147.55,147.61 147.85,145.38 148.16,142.94 148.47,140.26 148.77,137.3 149.08,134.02 149.39,130.36 149.69,126.25 150,121.6" fill="none" stroke="#333" stroke-width="0.8"/>
<polyline points="143.43,165.8 144.09,165.18 144.74,164.57 145.4,163.94 146.06,163.32 146.72,162.69 147.37,162.05 148.03,161.42 148.69,160.78 149.34,160.13 150,159.49 150.66,158.83 151.31,158.18 151.97,157.52 152.63,156.86 153.29,156.19 153.94,155.52 154.6,154.85 155.26,154.17 155.91,153.49 156.57,152.8 157.23,152.11 157.88,151.42 158.54,150.72 159.2,150.01 159.86,149.31 160.51,148.6 161.17,147.88 161.83,147.16 162.48,146.44 163.14,145.71 163.8,144.98 164.45,144.24 165.11,143.5 165.77,142.75 166.43,142 167.08,141.24 167.74,140.48 168.4,139.72 169.05,138.95 169.71,138.17 170.37,137.4 171.02,136.61 171.68,135.82 172.34,135.03 173,134.23 173.65,133.42 174.31,132.61 174.97,131.8 175.62,130.98 176.28,130.15 176.94,129.32 177.59,128.49 178.25,127.65 178.91,126.8 179.57,125.95 180.22,125.09 180.88,124.23 181.54,123.36 182.19,122.48 182.85,121.6" fill="none" stroke="#777" stroke-width="0.6"/>
<defs><clipPath id="csp12"><polygon points="193.2,187.9 193.75,187.62 194.29,187.33 194.84,187.04 195.39,186.74 195.94,186.43 196.48,186.11 197.03,185.78 197.58,185.44 198.13,185.1 198.67,184.74 199.22,184.38 199.77,184 200.32,183.61 200.86,183.21 201.41,182.8 201.96,182.38 202.51,181.94 203.05,181.48 203.6,181.02 204.15,180.53 204.7,180.03 205.24,179.52 205.79,178.98 206.34,178.43 206.89,177.85 207.43,177.26 207.98,176.64 208.53,176 209.08,175.33 209.62,174.64 210.17,173.92 210.72,173.17 211.27,172.38 211.81,171.57 212.36,170.71 212.91,169.82 213.46,168.88 214,167.9 214.55,166.88 215.1,165.8 215.65,164.67 216.19,163.47 216.74,162.22 217.29,160.89 217.84,159.49 218.38,158 218.93,156.42 219.48,154.75 220.03,152.97 220.57,151.07 221.12,149.03 221.67,146.86 222.22,144.52 222.76,142 223.31,139.28 223.86,136.33 224.41,133.13 224.95,129.64 225.5,125.81 226.05,121.6 226.6,117.62 227.14,117.62 227.69,117.62 228.24,117.62 228.79,117.62 229.33,117.62 229.88,117.62 230.43,117.62 230.98,117.62 231.52,117.62 232.07,117.62 232.62,117.62 233.17,117.62 233.71,117.62 234.26,117.62 234.81,117.62 235.36,117.62 235.9,117.62 236.45,117.62 237,117.62 237.55,117.62 238.09,117.62 238.64,117.62 239.19,117.62 239.74,117.62 240.28,117.62 240.83,117.62 241.38,117.62 241.93,117.62 242.47,117.62 243.02,117.62 243.57,117.62 244.12,117.62 244.66,117.62 245.21,117.62 245.76,117.62 246.31,117.62 246.85,117.62 247.4,117.62 247.95,117.62 248.5,117.62 249.04,117.62 249.59,117.62 250.14,117.62 250.69,117.62 251.23,117.62 251.78,117.62 252.33,117.62 252.88,117.62 253.42,117.62 253.97,117.62 254.52,117.62 255.07,117.62 255.61,117.62 256.16,117.62 256.71,117.62 257.26,117.62 257.8,117.62 258.35,117.62 258.9,117.62 258.9,121.6 258.35,122.7 257.8,123.77 257.26,124.83 256.71,125.88 256.16,126.9 255.61,127.91 255.07,128.91 254.52,129.89 253.97,130.85 253.42,131.8 252.88,132.73 252.33,133.65 251.78,134.56 251.23,135.45 250.69,136.33 250.14,137.2 249.59,138.05 249.04,138.9 248.5,139.73 247.95,140.54 247.4,141.35 246.85,142.14 246.31,142.93 245.76,143.7 245.21,144.46 244.66,145.21 244.12,145.96 243.57,146.69 243.02,147.41 242.47,148.12 241.93,148.82 241.38,149.52 240.83,150.2 240.28,150.88 239.74,151.54 239.19,152.2 238.64,152.85 238.09,153.49 237.55,154.12 237,154.75 236.45,155.37 235.9,155.98 235.36,156.58 234.81,157.18 234.26,157.76 233.71,158.34 233.17,158.92 232.62,159.49 232.07,160.05 231.52,160.6 230.98,161.15 230.43,161.69 229.88,162.22 229.33,162.75 228.79,163.27 228.24,163.79 227.69,164.3 227.14,164.81 226.6,165.31 226.05,165.8 225.5,166.29 224.95,166.77 224.41,167.25 223.86,167.72 223.31,168.19 222.76,168.65 222.22,169.11 221.67,169.56 221.12,170.01 220.57,170.45 220.03,170.89 219.48,171.32 218.93,171.75 218.38,172.18 217.84,172.6 217.29,173.02 216.74,173.43 216.19,173.84 215.65,174.24 215.1,174.64 214.55,175.04 214,175.43 213.46,175.82 212.91,176.2 212.36,176.58 211.81,176.96 211.27,177.33 210.72,177.7 210.17,178.07 209.62,178.43 209.08,178.79 208.53,179.14 207.98,179.5 207.43,179.84 206.89,180.19 206.34,180.53 205.79,180.87 205.24,181.21 204.7,181.54 204.15,181.87 203.6,182.2 203.05,182.52 202.51,182.85 201.96,183.16 201.41,183.48 200.86,183.79 200.32,184.1 199.77,184.41 199.22,184.72 198.67,185.02 198.13,185.32 197.58,185.61 197.03,185.91 196.48,186.2 195.94,186.49 195.39,186.78 194.84,187.06 194.29,187.34 193.75,187.62 193.2,187.9"/></clipPath><clipPath id="ccp12"><rect x="192.7" y="121.95" width="65" height="65.95"/></clipPath><linearGradient id="lgp12" gradientUnits="userSpaceOnUse" x1="193.2" y1="0" x2="258.9" y2="0"><stop offset="0" stop-color="#fff"/><stop offset="0.5" stop-color="#767676"/><stop offset="1" stop-color="#000"/></linearGradient><linearGradient id="lsp12" gradientUnits="userSpaceOnUse" x1="193.2" y1="0" x2="258.9" y2="0"><stop offset="0" stop-color="#fff"/><stop offset="0.8" stop-color="#050505"/><stop offset="1" stop-color="#000"/></linearGradient></defs>
<rect x="191.7" y="121" width="68.2" height="68.5" fill="#fff" stroke="#bcbcbc" stroke-width="1"/>
<g clip-path="url(#ccp12)">
<polygon points="191.2,117.62 191.2,191.88 193.2,191.88 193.2,187.9 193.61,187.69 194.02,187.48 194.43,187.26 194.84,187.04 195.25,186.81 195.66,186.58 196.07,186.35 196.48,186.11 196.9,185.86 197.31,185.61 197.72,185.36 198.13,185.1 198.54,184.83 198.95,184.56 199.36,184.28 199.77,184 200.18,183.71 200.59,183.41 201,183.11 201.41,182.8 201.82,182.48 202.23,182.16 202.64,181.82 203.05,181.48 203.47,181.13 203.88,180.78 204.29,180.41 204.7,180.03 205.11,179.65 205.52,179.25 205.93,178.85 206.34,178.43 206.75,178 207.16,177.56 207.57,177.11 207.98,176.64 208.39,176.16 208.8,175.67 209.21,175.16 209.62,174.64 210.04,174.1 210.45,173.55 210.86,172.97 211.27,172.38 211.68,171.77 212.09,171.14 212.5,170.49 212.91,169.82 213.32,169.12 213.73,168.4 214.14,167.65 214.55,166.88 214.96,166.07 215.37,165.24 215.78,164.37 216.19,163.47 216.61,162.54 217.02,161.56 217.43,160.55 217.84,159.49 218.25,158.38 218.66,157.22 219.07,156.02 219.48,154.75 219.89,153.42 220.3,152.03 220.71,150.57 221.12,149.03 221.53,147.42 221.94,145.71 222.35,143.91 222.76,142 223.18,139.98 223.59,137.84 224,135.56 224.41,133.13 224.82,130.54 225.23,127.77 225.64,124.8 226.05,121.6 226.46,118.16 226.52,117.62" fill="url(#lgp12)"/>
<g clip-path="url(#csp12)"><rect x="191.2" y="118.6" width="69.7" height="72.3" fill="url(#lsp12)"/><rect x="192.2" y="122.65" width="67.7" height="3.2" fill="#fff"/><rect x="192.2" y="128.72" width="67.7" height="3.5" fill="#fff"/><rect x="192.2" y="135.28" width="67.7" height="3.5" fill="#fff"/><rect x="192.2" y="141.85" width="67.7" height="3.5" fill="#fff"/><rect x="192.2" y="148.41" width="67.7" height="3.5" fill="#fff"/><rect x="192.2" y="154.98" width="67.7" height="3.5" fill="#fff"/><rect x="192.2" y="161.55" width="67.7" height="3.5" fill="#fff"/><rect x="192.2" y="168.11" width="67.7" height="3.5" fill="#fff"/><rect x="192.2" y="174.68" width="67.7" height="3.5" fill="#fff"/><rect x="192.2" y="181.24" width="67.7" height="3.5" fill="#fff"/><rect x="192.2" y="187.81" width="67.7" height="3.5" fill="#fff"/></g>
</g>
<line x1="192.7" y1="121.9" x2="257.7" y2="121.9" stroke="#000" stroke-opacity="0.3" stroke-width="0.8"/>
<polyline points="193.2,187.9 193.75,187.62 194.29,187.33 194.84,187.04 195.39,186.74 195.94,186.43 196.48,186.11 197.03,185.78 197.58,185.44 198.13,185.1 198.67,184.74 199.22,184.38 199.77,184 200.32,183.61 200.86,183.21 201.41,182.8 201.96,182.38 202.51,181.94 203.05,181.48 203.6,181.02 204.15,180.53 204.7,180.03 205.24,179.52 205.79,178.98 206.34,178.43 206.89,177.85 207.43,177.26 207.98,176.64 208.53,176 209.08,175.33 209.62,174.64 210.17,173.92 210.72,173.17 211.27,172.38 211.81,171.57 212.36,170.71 212.91,169.82 213.46,168.88 214,167.9 214.55,166.88 215.1,165.8 215.65,164.67 216.19,163.47 216.74,162.22 217.29,160.89 217.84,159.49 218.38,158 218.93,156.42 219.48,154.75 220.03,152.97 220.57,151.07 221.12,149.03 221.67,146.86 222.22,144.52 222.76,142 223.31,139.28 223.86,136.33 224.41,133.13 224.95,129.64 225.5,125.81 226.05,121.6" fill="none" stroke="#333" stroke-width="0.8"/>
<polyline points="193.2,187.9 194.29,187.34 195.39,186.78 196.48,186.2 197.58,185.61 198.67,185.02 199.77,184.41 200.86,183.79 201.96,183.16 203.05,182.52 204.15,181.87 205.24,181.21 206.34,180.53 207.43,179.84 208.53,179.14 209.62,178.43 210.72,177.7 211.81,176.96 212.91,176.2 214,175.43 215.1,174.64 216.19,173.84 217.29,173.02 218.38,172.18 219.48,171.32 220.57,170.45 221.67,169.56 222.76,168.65 223.86,167.72 224.95,166.77 226.05,165.8 227.14,164.81 228.24,163.79 229.33,162.75 230.43,161.69 231.52,160.6 232.62,159.49 233.71,158.34 234.81,157.18 235.9,155.98 237,154.75 238.09,153.49 239.19,152.2 240.28,150.88 241.38,149.52 242.47,148.12 243.57,146.69 244.66,145.21 245.76,143.7 246.85,142.14 247.95,140.54 249.04,138.9 250.14,137.2 251.23,135.45 252.33,133.65 253.42,131.8 254.52,129.89 255.61,127.91 256.71,125.88 257.8,123.77 258.9,121.6" fill="none" stroke="#777" stroke-width="0.6"/>
<defs><clipPath id="csp13"><polygon points="269.25,187.9 269.8,187.48 270.35,187.05 270.89,186.62 271.44,186.17 271.99,185.71 272.54,185.25 273.08,184.77 273.63,184.28 274.18,183.78 274.73,183.27 275.27,182.75 275.82,182.22 276.37,181.67 276.92,181.11 277.46,180.53 278.01,179.94 278.56,179.34 279.11,178.72 279.65,178.08 280.2,177.43 280.75,176.76 281.3,176.07 281.84,175.37 282.39,174.64 282.94,173.89 283.49,173.12 284.03,172.33 284.58,171.52 285.13,170.68 285.68,169.82 286.22,168.93 286.77,168.01 287.32,167.06 287.87,166.09 288.41,165.08 288.96,164.03 289.51,162.95 290.06,161.84 290.6,160.68 291.15,159.49 291.7,158.25 292.25,156.96 292.79,155.63 293.34,154.24 293.89,152.8 294.44,151.3 294.98,149.74 295.53,148.12 296.08,146.43 296.62,144.66 297.17,142.82 297.72,140.89 298.27,138.87 298.81,136.75 299.36,134.54 299.91,132.21 300.46,129.76 301,127.18 301.55,124.47 302.1,121.6 302.65,118.57 303.19,117.62 303.74,117.62 304.29,117.62 304.84,117.62 305.38,117.62 305.93,117.62 306.48,117.62 307.03,117.62 307.57,117.62 308.12,117.62 308.67,117.62 309.22,117.62 309.76,117.62 310.31,117.62 310.86,117.62 311.41,117.62 311.95,117.62 312.5,117.62 313.05,117.62 313.6,117.62 314.14,117.62 314.69,117.62 315.24,117.62 315.79,117.62 316.33,117.62 316.88,117.62 317.43,117.62 317.98,117.62 318.52,117.62 319.07,117.62 319.62,117.62 320.17,117.62 320.71,117.62 321.26,117.62 321.81,117.62 322.36,117.62 322.9,117.62 323.45,117.62 324,117.62 324.55,117.62 325.09,117.62 325.64,117.62 326.19,117.62 326.74,117.62 327.28,117.62 327.83,117.62 328.38,117.62 328.93,117.62 329.47,117.62 330.02,117.62 330.57,117.62 331.12,117.62 331.66,117.62 332.21,117.62 332.76,117.62 333.31,117.62 333.86,117.62 334.4,117.62 334.95,117.62 334.95,121.6 334.4,123.76 333.86,125.81 333.31,127.77 332.76,129.64 332.21,131.42 331.66,133.13 331.12,134.77 330.57,136.33 330.02,137.84 329.47,139.28 328.93,140.67 328.38,142 327.83,143.28 327.28,144.52 326.74,145.71 326.19,146.86 325.64,147.96 325.09,149.03 324.55,150.07 324,151.07 323.45,152.03 322.9,152.97 322.36,153.87 321.81,154.75 321.26,155.6 320.71,156.42 320.17,157.22 319.62,158 319.07,158.75 318.52,159.49 317.98,160.2 317.43,160.89 316.88,161.56 316.33,162.22 315.79,162.85 315.24,163.47 314.69,164.08 314.14,164.67 313.6,165.24 313.05,165.8 312.5,166.35 311.95,166.88 311.41,167.4 310.86,167.9 310.31,168.4 309.76,168.88 309.22,169.36 308.67,169.82 308.12,170.27 307.57,170.71 307.03,171.14 306.48,171.57 305.93,171.98 305.38,172.38 304.84,172.78 304.29,173.17 303.74,173.55 303.19,173.92 302.65,174.28 302.1,174.64 301.55,174.99 301,175.33 300.46,175.67 299.91,176 299.36,176.32 298.81,176.64 298.27,176.95 297.72,177.26 297.17,177.56 296.62,177.85 296.08,178.14 295.53,178.43 294.98,178.71 294.44,178.98 293.89,179.25 293.34,179.52 292.79,179.78 292.25,180.03 291.7,180.29 291.15,180.53 290.6,180.78 290.06,181.02 289.51,181.25 288.96,181.48 288.41,181.71 287.87,181.94 287.32,182.16 286.77,182.38 286.22,182.59 285.68,182.8 285.13,183.01 284.58,183.21 284.03,183.41 283.49,183.61 282.94,183.81 282.39,184 281.84,184.19 281.3,184.38 280.75,184.56 280.2,184.74 279.65,184.92 279.11,185.1 278.56,185.27 278.01,185.44 277.46,185.61 276.92,185.78 276.37,185.95 275.82,186.11 275.27,186.27 274.73,186.43 274.18,186.58 273.63,186.74 273.08,186.89 272.54,187.04 271.99,187.19 271.44,187.33 270.89,187.48 270.35,187.62 269.8,187.76 269.25,187.9"/></clipPath><clipPath id="ccp13"><rect x="268.75" y="121.95" width="65" height="65.95"/></clipPath><linearGradient id="lgp13" gradientUnits="userSpaceOnUse" x1="269.25" y1="0" x2="334.95" y2="0"><stop offset="0" stop-color="#fff"/><stop offset="0.5" stop-color="#767676"/><stop offset="1" stop-color="#000"/></linearGradient><linearGradient id="lsp13" gradientUnits="userSpaceOnUse" x1="269.25" y1="0" x2="334.95" y2="0"><stop offset="0" stop-color="#fff"/><stop offset="0.8" stop-color="#050505"/><stop offset="1" stop-color="#000"/></linearGradient></defs>
<rect x="267.75" y="121" width="68.2" height="68.5" fill="#fff" stroke="#bcbcbc" stroke-width="1"/>
<g clip-path="url(#ccp13)">
<polygon points="267.25,117.62 267.25,191.88 269.25,191.88 269.25,187.9 269.66,187.59 270.07,187.27 270.48,186.95 270.89,186.62 271.3,186.28 271.71,185.94 272.12,185.6 272.54,185.25 272.95,184.89 273.36,184.53 273.77,184.16 274.18,183.78 274.59,183.4 275,183.01 275.41,182.62 275.82,182.22 276.23,181.81 276.64,181.39 277.05,180.97 277.46,180.53 277.87,180.09 278.28,179.64 278.69,179.19 279.11,178.72 279.52,178.24 279.93,177.76 280.34,177.27 280.75,176.76 281.16,176.25 281.57,175.72 281.98,175.19 282.39,174.64 282.8,174.08 283.21,173.51 283.62,172.93 284.03,172.33 284.44,171.73 284.85,171.1 285.26,170.47 285.68,169.82 286.09,169.15 286.5,168.47 286.91,167.78 287.32,167.06 287.73,166.33 288.14,165.58 288.55,164.82 288.96,164.03 289.37,163.23 289.78,162.4 290.19,161.55 290.6,160.68 291.01,159.79 291.42,158.87 291.83,157.93 292.25,156.96 292.66,155.96 293.07,154.94 293.48,153.89 293.89,152.8 294.3,151.68 294.71,150.53 295.12,149.34 295.53,148.12 295.94,146.86 296.35,145.55 296.76,144.21 297.17,142.82 297.58,141.38 297.99,139.89 298.4,138.35 298.81,136.75 299.23,135.1 299.64,133.39 300.05,131.61 300.46,129.76 300.87,127.84 301.28,125.84 301.69,123.76 302.1,121.6 302.51,119.34 302.81,117.62" fill="url(#lgp13)"/>
<g clip-path="url(#csp13)"><rect x="267.25" y="118.6" width="69.7" height="72.3" fill="url(#lsp13)"/><rect x="268.25" y="122.65" width="67.7" height="3.2" fill="#fff"/><rect x="268.25" y="128.72" width="67.7" height="3.5" fill="#fff"/><rect x="268.25" y="135.28" width="67.7" height="3.5" fill="#fff"/><rect x="268.25" y="141.85" width="67.7" height="3.5" fill="#fff"/><rect x="268.25" y="148.41" width="67.7" height="3.5" fill="#fff"/><rect x="268.25" y="154.98" width="67.7" height="3.5" fill="#fff"/><rect x="268.25" y="161.55" width="67.7" height="3.5" fill="#fff"/><rect x="268.25" y="168.11" width="67.7" height="3.5" fill="#fff"/><rect x="268.25" y="174.68" width="67.7" height="3.5" fill="#fff"/><rect x="268.25" y="181.24" width="67.7" height="3.5" fill="#fff"/><rect x="268.25" y="187.81" width="67.7" height="3.5" fill="#fff"/></g>
</g>
<line x1="268.75" y1="121.9" x2="333.75" y2="121.9" stroke="#000" stroke-opacity="0.3" stroke-width="0.8"/>
<polyline points="269.25,187.9 269.8,187.48 270.35,187.05 270.89,186.62 271.44,186.17 271.99,185.71 272.54,185.25 273.08,184.77 273.63,184.28 274.18,183.78 274.73,183.27 275.27,182.75 275.82,182.22 276.37,181.67 276.92,181.11 277.46,180.53 278.01,179.94 278.56,179.34 279.11,178.72 279.65,178.08 280.2,177.43 280.75,176.76 281.3,176.07 281.84,175.37 282.39,174.64 282.94,173.89 283.49,173.12 284.03,172.33 284.58,171.52 285.13,170.68 285.68,169.82 286.22,168.93 286.77,168.01 287.32,167.06 287.87,166.09 288.41,165.08 288.96,164.03 289.51,162.95 290.06,161.84 290.6,160.68 291.15,159.49 291.7,158.25 292.25,156.96 292.79,155.63 293.34,154.24 293.89,152.8 294.44,151.3 294.98,149.74 295.53,148.12 296.08,146.43 296.62,144.66 297.17,142.82 297.72,140.89 298.27,138.87 298.81,136.75 299.36,134.54 299.91,132.21 300.46,129.76 301,127.18 301.55,124.47 302.1,121.6" fill="none" stroke="#333" stroke-width="0.8"/>
<polyline points="269.25,187.9 270.35,187.62 271.44,187.33 272.54,187.04 273.63,186.74 274.73,186.43 275.82,186.11 276.92,185.78 278.01,185.44 279.11,185.1 280.2,184.74 281.3,184.38 282.39,184 283.49,183.61 284.58,183.21 285.68,182.8 286.77,182.38 287.87,181.94 288.96,181.48 290.06,181.02 291.15,180.53 292.25,180.03 293.34,179.52 294.44,178.98 295.53,178.43 296.62,177.85 297.72,177.26 298.81,176.64 299.91,176 301,175.33 302.1,174.64 303.19,173.92 304.29,173.17 305.38,172.38 306.48,171.57 307.57,170.71 308.67,169.82 309.76,168.88 310.86,167.9 311.95,166.88 313.05,165.8 314.14,164.67 315.24,163.47 316.33,162.22 317.43,160.89 318.52,159.49 319.62,158 320.71,156.42 321.81,154.75 322.9,152.97 324,151.07 325.09,149.03 326.19,146.86 327.28,144.52 328.38,142 329.47,139.28 330.57,136.33 331.66,133.13 332.76,129.64 333.86,125.81 334.95,121.6" fill="none" stroke="#777" stroke-width="0.6"/>
<defs><clipPath id="csp14"><polygon points="345.3,187.9 345.85,187.34 346.4,186.78 346.94,186.2 347.49,185.61 348.04,185.02 348.59,184.41 349.13,183.79 349.68,183.16 350.23,182.52 350.78,181.87 351.32,181.21 351.87,180.53 352.42,179.84 352.97,179.14 353.51,178.43 354.06,177.7 354.61,176.96 355.16,176.2 355.7,175.43 356.25,174.64 356.8,173.84 357.35,173.02 357.89,172.18 358.44,171.32 358.99,170.45 359.54,169.56 360.08,168.65 360.63,167.72 361.18,166.77 361.73,165.8 362.27,164.81 362.82,163.79 363.37,162.75 363.92,161.69 364.46,160.6 365.01,159.49 365.56,158.34 366.11,157.18 366.65,155.98 367.2,154.75 367.75,153.49 368.3,152.2 368.84,150.88 369.39,149.52 369.94,148.12 370.49,146.69 371.03,145.21 371.58,143.7 372.13,142.14 372.68,140.54 373.22,138.9 373.77,137.2 374.32,135.45 374.87,133.65 375.41,131.8 375.96,129.89 376.51,127.91 377.06,125.88 377.6,123.77 378.15,121.6 378.7,119.35 379.25,117.62 379.79,117.62 380.34,117.62 380.89,117.62 381.44,117.62 381.98,117.62 382.53,117.62 383.08,117.62 383.62,117.62 384.17,117.62 384.72,117.62 385.27,117.62 385.81,117.62 386.36,117.62 386.91,117.62 387.46,117.62 388,117.62 388.55,117.62 389.1,117.62 389.65,117.62 390.19,117.62 390.74,117.62 391.29,117.62 391.84,117.62 392.38,117.62 392.93,117.62 393.48,117.62 394.03,117.62 394.57,117.62 395.12,117.62 395.67,117.62 396.22,117.62 396.76,117.62 397.31,117.62 397.86,117.62 398.41,117.62 398.95,117.62 399.5,117.62 400.05,117.62 400.6,117.62 401.14,117.62 401.69,117.62 402.24,117.62 402.79,117.62 403.33,117.62 403.88,117.62 404.43,117.62 404.98,117.62 405.52,117.62 406.07,117.62 406.62,117.62 407.17,117.62 407.71,117.62 408.26,117.62 408.81,117.62 409.36,117.62 409.9,117.62 410.45,117.62 411,117.62 411,191.88 410.45,191.88 409.9,191.88 409.36,191.88 408.81,191.88 408.26,191.88 407.71,191.88 407.17,191.88 406.62,191.88 406.07,191.88 405.52,191.88 404.98,191.88 404.43,191.88 403.88,191.88 403.33,191.88 402.79,191.88 402.24,191.88 401.69,191.88 401.14,191.88 400.6,191.88 400.05,191.88 399.5,191.88 398.95,191.88 398.41,191.88 397.86,191.88 397.31,191.88 396.76,191.88 396.22,191.88 395.67,191.88 395.12,191.88 394.57,191.88 394.03,191.88 393.48,191.88 392.93,191.88 392.38,191.88 391.84,191.88 391.29,191.88 390.74,191.88 390.19,191.88 389.65,191.88 389.1,191.88 388.55,191.88 388,191.88 387.46,191.88 386.91,191.88 386.36,191.88 385.81,191.88 385.27,191.88 384.72,191.88 384.17,191.88 383.62,191.88 383.08,191.88 382.53,191.88 381.98,191.88 381.44,191.88 380.89,191.88 380.34,191.88 379.79,191.88 379.25,191.88 378.7,191.88 378.15,191.88 377.6,191.88 377.06,191.88 376.51,191.88 375.96,191.88 375.41,191.88 374.87,191.88 374.32,191.88 373.77,191.88 373.22,191.88 372.68,191.88 372.13,191.88 371.58,191.88 371.03,191.88 370.49,191.88 369.94,191.88 369.39,191.88 368.84,191.88 368.3,191.88 367.75,191.88 367.2,191.88 366.65,191.88 366.11,191.88 365.56,191.88 365.01,191.88 364.46,191.88 363.92,191.88 363.37,191.88 362.82,191.88 362.27,191.88 361.73,191.88 361.18,191.88 360.63,191.88 360.08,191.88 359.54,191.88 358.99,191.88 358.44,191.88 357.89,191.88 357.35,191.88 356.8,191.88 356.25,191.88 355.7,191.88 355.16,191.88 354.61,191.88 354.06,191.88 353.51,191.88 352.97,191.88 352.42,191.88 351.87,191.88 351.32,191.88 350.78,191.88 350.23,191.88 349.68,191.88 349.13,191.88 348.59,191.88 348.04,191.88 347.49,191.88 346.94,191.88 346.4,191.88 345.85,191.88 345.3,191.88"/></clipPath><clipPath id="ccp14"><rect x="344.8" y="121.95" width="65" height="65.95"/></clipPath><linearGradient id="lgp14" gradientUnits="userSpaceOnUse" x1="345.3" y1="0" x2="411" y2="0"><stop offset="0" stop-color="#fff"/><stop offset="0.5" stop-color="#767676"/><stop offset="1" stop-color="#000"/></linearGradient><linearGradient id="lsp14" gradientUnits="userSpaceOnUse" x1="345.3" y1="0" x2="411" y2="0"><stop offset="0" stop-color="#fff"/><stop offset="0.8" stop-color="#050505"/><stop offset="1" stop-color="#000"/></linearGradient></defs>
<rect x="343.8" y="121" width="68.2" height="68.5" fill="#fff" stroke="#bcbcbc" stroke-width="1"/>
<g clip-path="url(#ccp14)">
<polygon points="343.3,117.62 343.3,191.88 345.3,191.88 345.3,187.9 345.71,187.48 346.12,187.06 346.53,186.63 346.94,186.2 347.35,185.76 347.76,185.32 348.17,184.87 348.59,184.41 349,183.95 349.41,183.48 349.82,183.01 350.23,182.52 350.64,182.04 351.05,181.54 351.46,181.04 351.87,180.53 352.28,180.02 352.69,179.5 353.1,178.97 353.51,178.43 353.92,177.88 354.33,177.33 354.74,176.77 355.16,176.2 355.57,175.62 355.98,175.04 356.39,174.44 356.8,173.84 357.21,173.22 357.62,172.6 358.03,171.97 358.44,171.32 358.85,170.67 359.26,170.01 359.67,169.34 360.08,168.65 360.49,167.96 360.9,167.25 361.31,166.53 361.73,165.8 362.14,165.06 362.55,164.3 362.96,163.53 363.37,162.75 363.78,161.96 364.19,161.15 364.6,160.32 365.01,159.49 365.42,158.63 365.83,157.76 366.24,156.88 366.65,155.98 367.06,155.06 367.47,154.12 367.88,153.17 368.3,152.2 368.71,151.21 369.12,150.2 369.53,149.17 369.94,148.12 370.35,147.05 370.76,145.96 371.17,144.84 371.58,143.7 371.99,142.54 372.4,141.35 372.81,140.14 373.22,138.9 373.63,137.63 374.04,136.33 374.45,135.01 374.87,133.65 375.28,132.27 375.69,130.85 376.1,129.4 376.51,127.91 376.92,126.39 377.33,124.83 377.74,123.24 378.15,121.6 378.56,119.92 378.97,118.2 379.11,117.62" fill="url(#lgp14)"/>
<g clip-path="url(#csp14)"><rect x="343.3" y="118.6" width="69.7" height="72.3" fill="url(#lsp14)"/><rect x="344.3" y="122.65" width="67.7" height="3.2" fill="#fff"/><rect x="344.3" y="128.72" width="67.7" height="3.5" fill="#fff"/><rect x="344.3" y="135.28" width="67.7" height="3.5" fill="#fff"/><rect x="344.3" y="141.85" width="67.7" height="3.5" fill="#fff"/><rect x="344.3" y="148.41" width="67.7" height="3.5" fill="#fff"/><rect x="344.3" y="154.98" width="67.7" height="3.5" fill="#fff"/><rect x="344.3" y="161.55" width="67.7" height="3.5" fill="#fff"/><rect x="344.3" y="168.11" width="67.7" height="3.5" fill="#fff"/><rect x="344.3" y="174.68" width="67.7" height="3.5" fill="#fff"/><rect x="344.3" y="181.24" width="67.7" height="3.5" fill="#fff"/><rect x="344.3" y="187.81" width="67.7" height="3.5" fill="#fff"/></g>
</g>
<line x1="344.8" y1="121.9" x2="409.8" y2="121.9" stroke="#000" stroke-opacity="0.3" stroke-width="0.8"/>
<polyline points="345.3,187.9 345.85,187.34 346.4,186.78 346.94,186.2 347.49,185.61 348.04,185.02 348.59,184.41 349.13,183.79 349.68,183.16 350.23,182.52 350.78,181.87 351.32,181.21 351.87,180.53 352.42,179.84 352.97,179.14 353.51,178.43 354.06,177.7 354.61,176.96 355.16,176.2 355.7,175.43 356.25,174.64 356.8,173.84 357.35,173.02 357.89,172.18 358.44,171.32 358.99,170.45 359.54,169.56 360.08,168.65 360.63,167.72 361.18,166.77 361.73,165.8 362.27,164.81 362.82,163.79 363.37,162.75 363.92,161.69 364.46,160.6 365.01,159.49 365.56,158.34 366.11,157.18 366.65,155.98 367.2,154.75 367.75,153.49 368.3,152.2 368.84,150.88 369.39,149.52 369.94,148.12 370.49,146.69 371.03,145.21 371.58,143.7 372.13,142.14 372.68,140.54 373.22,138.9 373.77,137.2 374.32,135.45 374.87,133.65 375.41,131.8 375.96,129.89 376.51,127.91 377.06,125.88 377.6,123.77 378.15,121.6" fill="none" stroke="#333" stroke-width="0.8"/>
<g style="font-family:'Liberation Serif',serif;fill:#000;stroke:#000;stroke-width:0.4px;opacity:0.999" font-size="15.6" text-anchor="middle">
<text x="225.6" y="13.2">Equilibrium</text>
<text x="228.2" y="112.6">HEG load</text>
<text x="232.6" y="226.7">Fitness cost (<tspan font-style="italic">s</tspan>)</text>
<text x="234.2" y="241.4">(ranges from 0 to 1)</text>
<text font-size="15.5" stroke-width="0.5" textLength="97" lengthAdjust="spacingAndGlyphs" transform="translate(12.7,97.8) rotate(-90)">Homing rate (<tspan font-style="italic">e</tspan>)</text>
<text font-size="15.5" stroke-width="0.5" textLength="122.8" lengthAdjust="spacingAndGlyphs" transform="translate(27.9,98.2) rotate(-90)">(ranges from 0 to 1)</text>
</g>
<g style="font-family:'Liberation Serif',serif;fill:#000;opacity:0.999;font-weight:bold" font-size="13.5" text-anchor="middle">
<text x="75.8" y="205.1"><tspan font-style="italic" font-weight="normal" stroke="#000" stroke-width="0.35">h</tspan> = 0</text>
<text x="151.5" y="205.1"><tspan font-style="italic" font-weight="normal" stroke="#000" stroke-width="0.35">h</tspan> = 0. 25</text>
<text x="226.3" y="205.1"><tspan font-style="italic" font-weight="normal" stroke="#000" stroke-width="0.35">h</tspan> = 0. 5</text>
<text x="298.8" y="205.1"><tspan font-style="italic" font-weight="normal" stroke="#000" stroke-width="0.35">h</tspan> = 0.75</text>
<text x="372.8" y="205.1"><tspan font-style="italic" font-weight="normal" stroke="#000" stroke-width="0.35">h</tspan> = 1</text>
</g>
</svg>
</body></html>
